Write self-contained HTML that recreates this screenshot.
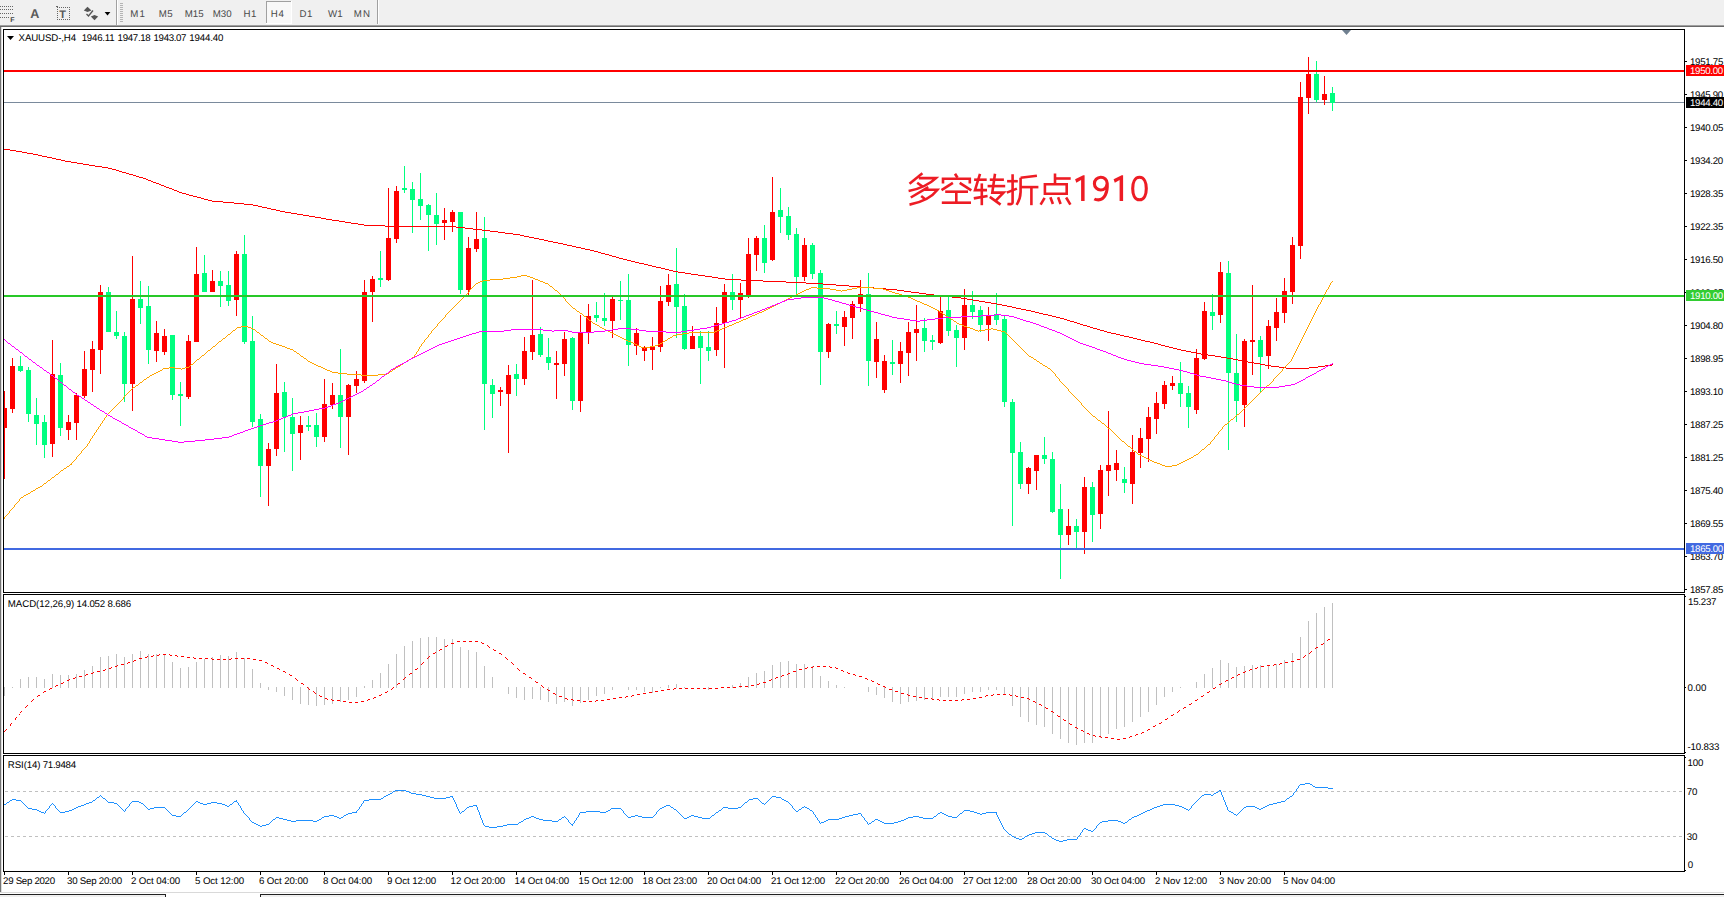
<!DOCTYPE html>
<html lang="en"><head><meta charset="utf-8"><title>XAUUSD H4</title><style>
html,body{margin:0;padding:0;background:#fff;}
body{width:1724px;height:897px;overflow:hidden;position:relative;font-family:"Liberation Sans",sans-serif;}
.abs{position:absolute;display:block;}
.t{position:absolute;white-space:pre;line-height:1.117;font-family:"Liberation Sans",sans-serif;text-rendering:geometricPrecision;}
#tb{position:absolute;left:0;top:0;width:1724px;height:25px;background:#f0f0f0;}
.r{position:absolute;}
</style></head>
<body>
<div id="tb"></div>
<div class="r" style="left:0;top:25px;width:1724px;height:1px;background:#a0a0a0"></div>
<div class="r" style="left:0;top:26px;width:1724px;height:1px;background:#696969"></div>
<div class="r" style="left:0;top:27px;width:1px;height:866px;background:#747474"></div>
<div class="r" style="left:1px;top:27px;width:1px;height:866px;background:#dcdcdc"></div>
<div class="r" style="left:0;top:892px;width:1724px;height:1px;background:#d9d9d9"></div>
<div class="r" style="left:0;top:894px;width:1724px;height:3px;background:#f0f0f0;border-top:1px solid #222;box-sizing:border-box"></div>
<div class="r" style="left:165px;top:894px;width:96px;height:3px;background:#fff;border-left:1px solid #222;border-right:1px solid #222;box-sizing:border-box"></div>
<svg class="abs" style="left:0;top:0" width="400" height="25" viewBox="0 0 400 25" shape-rendering="crispEdges"><rect x="0" y="6" width="1" height="1" fill="#666"/><rect x="2" y="6" width="1" height="1" fill="#666"/><rect x="4" y="6" width="1" height="1" fill="#666"/><rect x="6" y="6" width="1" height="1" fill="#666"/><rect x="8" y="6" width="1" height="1" fill="#666"/><rect x="10" y="6" width="1" height="1" fill="#666"/><rect x="12" y="6" width="1" height="1" fill="#666"/><rect x="0" y="9" width="1" height="1" fill="#666"/><rect x="2" y="9" width="1" height="1" fill="#666"/><rect x="4" y="9" width="1" height="1" fill="#666"/><rect x="6" y="9" width="1" height="1" fill="#666"/><rect x="8" y="9" width="1" height="1" fill="#666"/><rect x="10" y="9" width="1" height="1" fill="#666"/><rect x="12" y="9" width="1" height="1" fill="#666"/><rect x="0" y="13" width="1" height="1" fill="#666"/><rect x="2" y="13" width="1" height="1" fill="#666"/><rect x="4" y="13" width="1" height="1" fill="#666"/><rect x="6" y="13" width="1" height="1" fill="#666"/><rect x="8" y="13" width="1" height="1" fill="#666"/><rect x="10" y="13" width="1" height="1" fill="#666"/><rect x="12" y="13" width="1" height="1" fill="#666"/><rect x="0" y="17" width="1" height="1" fill="#666"/><rect x="2" y="17" width="1" height="1" fill="#666"/><rect x="4" y="17" width="1" height="1" fill="#666"/><rect x="6" y="17" width="1" height="1" fill="#666"/><rect x="8" y="17" width="1" height="1" fill="#666"/><rect x="116" y="0" width="1" height="25" fill="#a0a0a0"/><rect x="117" y="0" width="1" height="25" fill="#fff"/><rect x="120" y="3" width="3" height="1" fill="#b4b4b4"/><rect x="120" y="5" width="3" height="1" fill="#b4b4b4"/><rect x="120" y="7" width="3" height="1" fill="#b4b4b4"/><rect x="120" y="9" width="3" height="1" fill="#b4b4b4"/><rect x="120" y="11" width="3" height="1" fill="#b4b4b4"/><rect x="120" y="13" width="3" height="1" fill="#b4b4b4"/><rect x="120" y="15" width="3" height="1" fill="#b4b4b4"/><rect x="120" y="17" width="3" height="1" fill="#b4b4b4"/><rect x="120" y="19" width="3" height="1" fill="#b4b4b4"/><rect x="120" y="21" width="3" height="1" fill="#b4b4b4"/><rect x="57" y="7" width="1" height="1" fill="#666"/><rect x="57" y="19" width="1" height="1" fill="#666"/><rect x="59" y="7" width="1" height="1" fill="#666"/><rect x="59" y="19" width="1" height="1" fill="#666"/><rect x="61" y="7" width="1" height="1" fill="#666"/><rect x="61" y="19" width="1" height="1" fill="#666"/><rect x="63" y="7" width="1" height="1" fill="#666"/><rect x="63" y="19" width="1" height="1" fill="#666"/><rect x="65" y="7" width="1" height="1" fill="#666"/><rect x="65" y="19" width="1" height="1" fill="#666"/><rect x="67" y="7" width="1" height="1" fill="#666"/><rect x="67" y="19" width="1" height="1" fill="#666"/><rect x="69" y="7" width="1" height="1" fill="#666"/><rect x="69" y="19" width="1" height="1" fill="#666"/><rect x="57" y="7" width="1" height="1" fill="#666"/><rect x="69" y="7" width="1" height="1" fill="#666"/><rect x="57" y="9" width="1" height="1" fill="#666"/><rect x="69" y="9" width="1" height="1" fill="#666"/><rect x="57" y="11" width="1" height="1" fill="#666"/><rect x="69" y="11" width="1" height="1" fill="#666"/><rect x="57" y="13" width="1" height="1" fill="#666"/><rect x="69" y="13" width="1" height="1" fill="#666"/><rect x="57" y="15" width="1" height="1" fill="#666"/><rect x="69" y="15" width="1" height="1" fill="#666"/><rect x="57" y="17" width="1" height="1" fill="#666"/><rect x="69" y="17" width="1" height="1" fill="#666"/><rect x="57" y="19" width="1" height="1" fill="#666"/><rect x="69" y="19" width="1" height="1" fill="#666"/><rect x="56" y="6" width="2" height="1" fill="#666"/><polygon points="87.5,6.8 91.5,10.5 87.5,12 83.8,10.5" fill="#555" shape-rendering="auto"/><polygon points="94.5,20.2 98.2,16.5 94.5,15 90.8,16.5" fill="#555" shape-rendering="auto"/><path d="M86.5 14 L88.5 16 L93 10.5" fill="none" stroke="#555" stroke-width="1.3" shape-rendering="auto"/><polygon points="104.6,12 110.4,12 107.5,15.6" fill="#000" shape-rendering="auto"/><rect x="267" y="2" width="24" height="21" fill="#f8f8f8"/><rect x="266" y="1" width="25" height="1" fill="#a0a0a0"/><rect x="266" y="1" width="1" height="22" fill="#a0a0a0"/><rect x="291" y="1" width="1" height="23" fill="#fff"/><rect x="266" y="23" width="26" height="1" fill="#fff"/><rect x="377" y="0" width="1" height="24" fill="#a0a0a0"/><rect x="378" y="0" width="1" height="24" fill="#fff"/></svg>
<svg class="abs" style="left:0;top:0" width="1724" height="897" viewBox="0 0 1724 897" shape-rendering="crispEdges"><rect x="3" y="29" width="1682" height="1" fill="#000"/><rect x="3" y="592" width="1682" height="1" fill="#000"/><rect x="3" y="29" width="1" height="564" fill="#000"/><rect x="1684" y="29" width="1" height="564" fill="#000"/>
<rect x="3" y="594" width="1682" height="1" fill="#000"/><rect x="3" y="753" width="1682" height="1" fill="#000"/><rect x="3" y="594" width="1" height="160" fill="#000"/><rect x="1684" y="594" width="1" height="160" fill="#000"/>
<rect x="3" y="755" width="1682" height="1" fill="#000"/><rect x="3" y="871" width="1682" height="1" fill="#000"/><rect x="3" y="755" width="1" height="117" fill="#000"/><rect x="1684" y="755" width="1" height="117" fill="#000"/>
<rect x="4" y="102" width="1680" height="1" fill="#7a8a9c"/>
<rect x="4" y="391" width="1" height="88" fill="#ff0000"/><rect x="4" y="408" width="3" height="20" fill="#ff0000"/><rect x="12" y="358" width="1" height="55" fill="#ff0000"/><rect x="10" y="366" width="5" height="43" fill="#ff0000"/><rect x="20" y="356" width="1" height="16" fill="#00ff7f"/><rect x="18" y="366" width="5" height="5" fill="#00ff7f"/><rect x="28" y="367" width="1" height="55" fill="#00ff7f"/><rect x="26" y="370" width="5" height="44" fill="#00ff7f"/><rect x="36" y="398" width="1" height="47" fill="#00ff7f"/><rect x="34" y="415" width="5" height="9" fill="#00ff7f"/><rect x="44" y="415" width="1" height="43" fill="#00ff7f"/><rect x="42" y="422" width="5" height="23" fill="#00ff7f"/><rect x="52" y="340" width="1" height="117" fill="#ff0000"/><rect x="50" y="374" width="5" height="70" fill="#ff0000"/><rect x="60" y="363" width="1" height="73" fill="#00ff7f"/><rect x="58" y="375" width="5" height="53" fill="#00ff7f"/><rect x="68" y="415" width="1" height="25" fill="#ff0000"/><rect x="66" y="422" width="5" height="8" fill="#ff0000"/><rect x="76" y="393" width="1" height="47" fill="#ff0000"/><rect x="74" y="395" width="5" height="28" fill="#ff0000"/><rect x="84" y="351" width="1" height="47" fill="#ff0000"/><rect x="82" y="369" width="5" height="27" fill="#ff0000"/><rect x="92" y="341" width="1" height="51" fill="#ff0000"/><rect x="90" y="349" width="5" height="21" fill="#ff0000"/><rect x="100" y="285" width="1" height="89" fill="#ff0000"/><rect x="98" y="292" width="5" height="58" fill="#ff0000"/><rect x="108" y="287" width="1" height="45" fill="#00ff7f"/><rect x="106" y="292" width="5" height="40" fill="#00ff7f"/><rect x="116" y="311" width="1" height="28" fill="#00ff7f"/><rect x="114" y="332" width="5" height="4" fill="#00ff7f"/><rect x="124" y="332" width="1" height="70" fill="#00ff7f"/><rect x="122" y="336" width="5" height="48" fill="#00ff7f"/><rect x="132" y="256" width="1" height="155" fill="#ff0000"/><rect x="130" y="299" width="5" height="85" fill="#ff0000"/><rect x="140" y="281" width="1" height="43" fill="#00ff7f"/><rect x="138" y="299" width="5" height="9" fill="#00ff7f"/><rect x="148" y="286" width="1" height="78" fill="#00ff7f"/><rect x="146" y="306" width="5" height="44" fill="#00ff7f"/><rect x="156" y="321" width="1" height="41" fill="#ff0000"/><rect x="154" y="333" width="5" height="18" fill="#ff0000"/><rect x="164" y="329" width="1" height="26" fill="#ff0000"/><rect x="162" y="336" width="5" height="16" fill="#ff0000"/><rect x="172" y="335" width="1" height="65" fill="#00ff7f"/><rect x="170" y="335" width="5" height="60" fill="#00ff7f"/><rect x="180" y="382" width="1" height="44" fill="#00ff7f"/><rect x="178" y="394" width="5" height="2" fill="#00ff7f"/><rect x="188" y="335" width="1" height="64" fill="#ff0000"/><rect x="186" y="341" width="5" height="56" fill="#ff0000"/><rect x="196" y="247" width="1" height="95" fill="#ff0000"/><rect x="194" y="274" width="5" height="68" fill="#ff0000"/><rect x="204" y="255" width="1" height="37" fill="#00ff7f"/><rect x="202" y="273" width="5" height="19" fill="#00ff7f"/><rect x="212" y="270" width="1" height="22" fill="#ff0000"/><rect x="210" y="281" width="5" height="11" fill="#ff0000"/><rect x="220" y="271" width="1" height="36" fill="#00ff7f"/><rect x="218" y="281" width="5" height="5" fill="#00ff7f"/><rect x="228" y="271" width="1" height="35" fill="#00ff7f"/><rect x="226" y="285" width="5" height="16" fill="#00ff7f"/><rect x="236" y="251" width="1" height="65" fill="#ff0000"/><rect x="234" y="254" width="5" height="46" fill="#ff0000"/><rect x="244" y="235" width="1" height="109" fill="#00ff7f"/><rect x="242" y="254" width="5" height="88" fill="#00ff7f"/><rect x="252" y="316" width="1" height="111" fill="#00ff7f"/><rect x="250" y="341" width="5" height="81" fill="#00ff7f"/><rect x="260" y="414" width="1" height="83" fill="#00ff7f"/><rect x="258" y="419" width="5" height="47" fill="#00ff7f"/><rect x="268" y="443" width="1" height="63" fill="#ff0000"/><rect x="266" y="449" width="5" height="17" fill="#ff0000"/><rect x="276" y="364" width="1" height="92" fill="#ff0000"/><rect x="274" y="393" width="5" height="56" fill="#ff0000"/><rect x="284" y="382" width="1" height="70" fill="#00ff7f"/><rect x="282" y="392" width="5" height="25" fill="#00ff7f"/><rect x="292" y="398" width="1" height="73" fill="#00ff7f"/><rect x="290" y="417" width="5" height="17" fill="#00ff7f"/><rect x="300" y="416" width="1" height="44" fill="#ff0000"/><rect x="298" y="425" width="5" height="8" fill="#ff0000"/><rect x="308" y="416" width="1" height="15" fill="#00ff7f"/><rect x="306" y="425" width="5" height="2" fill="#00ff7f"/><rect x="316" y="413" width="1" height="34" fill="#00ff7f"/><rect x="314" y="425" width="5" height="12" fill="#00ff7f"/><rect x="324" y="379" width="1" height="63" fill="#ff0000"/><rect x="322" y="404" width="5" height="33" fill="#ff0000"/><rect x="332" y="383" width="1" height="26" fill="#ff0000"/><rect x="330" y="395" width="5" height="10" fill="#ff0000"/><rect x="340" y="349" width="1" height="99" fill="#00ff7f"/><rect x="338" y="395" width="5" height="22" fill="#00ff7f"/><rect x="348" y="384" width="1" height="71" fill="#ff0000"/><rect x="346" y="385" width="5" height="32" fill="#ff0000"/><rect x="356" y="371" width="1" height="22" fill="#ff0000"/><rect x="354" y="379" width="5" height="7" fill="#ff0000"/><rect x="364" y="280" width="1" height="103" fill="#ff0000"/><rect x="362" y="292" width="5" height="89" fill="#ff0000"/><rect x="372" y="276" width="1" height="46" fill="#ff0000"/><rect x="370" y="279" width="5" height="13" fill="#ff0000"/><rect x="380" y="251" width="1" height="36" fill="#00ff7f"/><rect x="378" y="278" width="5" height="2" fill="#00ff7f"/><rect x="388" y="188" width="1" height="93" fill="#ff0000"/><rect x="386" y="238" width="5" height="42" fill="#ff0000"/><rect x="396" y="186" width="1" height="57" fill="#ff0000"/><rect x="394" y="191" width="5" height="48" fill="#ff0000"/><rect x="404" y="166" width="1" height="27" fill="#00ff7f"/><rect x="402" y="188" width="5" height="2" fill="#00ff7f"/><rect x="412" y="182" width="1" height="51" fill="#00ff7f"/><rect x="410" y="189" width="5" height="11" fill="#00ff7f"/><rect x="420" y="173" width="1" height="47" fill="#00ff7f"/><rect x="418" y="199" width="5" height="7" fill="#00ff7f"/><rect x="428" y="204" width="1" height="47" fill="#00ff7f"/><rect x="426" y="205" width="5" height="10" fill="#00ff7f"/><rect x="436" y="193" width="1" height="52" fill="#00ff7f"/><rect x="434" y="215" width="5" height="9" fill="#00ff7f"/><rect x="444" y="208" width="1" height="32" fill="#ff0000"/><rect x="442" y="220" width="5" height="3" fill="#ff0000"/><rect x="452" y="210" width="1" height="22" fill="#ff0000"/><rect x="450" y="212" width="5" height="10" fill="#ff0000"/><rect x="460" y="212" width="1" height="82" fill="#00ff7f"/><rect x="458" y="212" width="5" height="78" fill="#00ff7f"/><rect x="468" y="237" width="1" height="58" fill="#ff0000"/><rect x="466" y="248" width="5" height="42" fill="#ff0000"/><rect x="476" y="212" width="1" height="40" fill="#ff0000"/><rect x="474" y="239" width="5" height="10" fill="#ff0000"/><rect x="484" y="217" width="1" height="213" fill="#00ff7f"/><rect x="482" y="238" width="5" height="146" fill="#00ff7f"/><rect x="492" y="379" width="1" height="39" fill="#00ff7f"/><rect x="490" y="385" width="5" height="9" fill="#00ff7f"/><rect x="500" y="387" width="1" height="19" fill="#ff0000"/><rect x="498" y="390" width="5" height="2" fill="#ff0000"/><rect x="508" y="365" width="1" height="88" fill="#ff0000"/><rect x="506" y="375" width="5" height="19" fill="#ff0000"/><rect x="516" y="364" width="1" height="32" fill="#00ff7f"/><rect x="514" y="374" width="5" height="5" fill="#00ff7f"/><rect x="524" y="337" width="1" height="48" fill="#ff0000"/><rect x="522" y="351" width="5" height="28" fill="#ff0000"/><rect x="532" y="280" width="1" height="80" fill="#ff0000"/><rect x="530" y="335" width="5" height="17" fill="#ff0000"/><rect x="540" y="327" width="1" height="30" fill="#00ff7f"/><rect x="538" y="334" width="5" height="21" fill="#00ff7f"/><rect x="548" y="338" width="1" height="32" fill="#00ff7f"/><rect x="546" y="357" width="5" height="6" fill="#00ff7f"/><rect x="556" y="351" width="1" height="48" fill="#ff0000"/><rect x="554" y="363" width="5" height="2" fill="#ff0000"/><rect x="564" y="332" width="1" height="44" fill="#ff0000"/><rect x="562" y="339" width="5" height="25" fill="#ff0000"/><rect x="572" y="337" width="1" height="73" fill="#00ff7f"/><rect x="570" y="338" width="5" height="63" fill="#00ff7f"/><rect x="580" y="315" width="1" height="97" fill="#ff0000"/><rect x="578" y="333" width="5" height="68" fill="#ff0000"/><rect x="588" y="304" width="1" height="40" fill="#ff0000"/><rect x="586" y="316" width="5" height="16" fill="#ff0000"/><rect x="596" y="302" width="1" height="20" fill="#00ff7f"/><rect x="594" y="315" width="5" height="3" fill="#00ff7f"/><rect x="604" y="293" width="1" height="33" fill="#00ff7f"/><rect x="602" y="318" width="5" height="3" fill="#00ff7f"/><rect x="612" y="296" width="1" height="42" fill="#ff0000"/><rect x="610" y="299" width="5" height="22" fill="#ff0000"/><rect x="620" y="281" width="1" height="39" fill="#00ff7f"/><rect x="618" y="300" width="5" height="1" fill="#00ff7f"/><rect x="628" y="274" width="1" height="92" fill="#00ff7f"/><rect x="626" y="300" width="5" height="45" fill="#00ff7f"/><rect x="636" y="328" width="1" height="27" fill="#ff0000"/><rect x="634" y="333" width="5" height="13" fill="#ff0000"/><rect x="644" y="346" width="1" height="15" fill="#ff0000"/><rect x="642" y="348" width="5" height="3" fill="#ff0000"/><rect x="652" y="337" width="1" height="33" fill="#ff0000"/><rect x="650" y="347" width="5" height="3" fill="#ff0000"/><rect x="660" y="286" width="1" height="66" fill="#ff0000"/><rect x="658" y="301" width="5" height="46" fill="#ff0000"/><rect x="668" y="274" width="1" height="32" fill="#ff0000"/><rect x="666" y="285" width="5" height="17" fill="#ff0000"/><rect x="676" y="248" width="1" height="90" fill="#00ff7f"/><rect x="674" y="284" width="5" height="23" fill="#00ff7f"/><rect x="684" y="294" width="1" height="56" fill="#00ff7f"/><rect x="682" y="306" width="5" height="43" fill="#00ff7f"/><rect x="692" y="326" width="1" height="23" fill="#ff0000"/><rect x="690" y="336" width="5" height="13" fill="#ff0000"/><rect x="700" y="331" width="1" height="53" fill="#00ff7f"/><rect x="698" y="336" width="5" height="12" fill="#00ff7f"/><rect x="708" y="331" width="1" height="30" fill="#00ff7f"/><rect x="706" y="347" width="5" height="4" fill="#00ff7f"/><rect x="716" y="307" width="1" height="49" fill="#ff0000"/><rect x="714" y="323" width="5" height="27" fill="#ff0000"/><rect x="724" y="284" width="1" height="84" fill="#ff0000"/><rect x="722" y="292" width="5" height="31" fill="#ff0000"/><rect x="732" y="274" width="1" height="36" fill="#00ff7f"/><rect x="730" y="292" width="5" height="8" fill="#00ff7f"/><rect x="740" y="283" width="1" height="35" fill="#ff0000"/><rect x="738" y="293" width="5" height="7" fill="#ff0000"/><rect x="748" y="238" width="1" height="60" fill="#ff0000"/><rect x="746" y="254" width="5" height="41" fill="#ff0000"/><rect x="756" y="236" width="1" height="35" fill="#ff0000"/><rect x="754" y="238" width="5" height="17" fill="#ff0000"/><rect x="764" y="225" width="1" height="48" fill="#00ff7f"/><rect x="762" y="238" width="5" height="25" fill="#00ff7f"/><rect x="772" y="177" width="1" height="84" fill="#ff0000"/><rect x="770" y="212" width="5" height="48" fill="#ff0000"/><rect x="780" y="188" width="1" height="45" fill="#00ff7f"/><rect x="778" y="210" width="5" height="7" fill="#00ff7f"/><rect x="788" y="207" width="1" height="33" fill="#00ff7f"/><rect x="786" y="216" width="5" height="19" fill="#00ff7f"/><rect x="796" y="228" width="1" height="66" fill="#00ff7f"/><rect x="794" y="234" width="5" height="43" fill="#00ff7f"/><rect x="804" y="238" width="1" height="43" fill="#ff0000"/><rect x="802" y="245" width="5" height="32" fill="#ff0000"/><rect x="812" y="243" width="1" height="36" fill="#00ff7f"/><rect x="810" y="245" width="5" height="29" fill="#00ff7f"/><rect x="820" y="270" width="1" height="115" fill="#00ff7f"/><rect x="818" y="273" width="5" height="79" fill="#00ff7f"/><rect x="828" y="323" width="1" height="35" fill="#ff0000"/><rect x="826" y="324" width="5" height="28" fill="#ff0000"/><rect x="836" y="311" width="1" height="23" fill="#00ff7f"/><rect x="834" y="324" width="5" height="2" fill="#00ff7f"/><rect x="844" y="311" width="1" height="35" fill="#ff0000"/><rect x="842" y="317" width="5" height="10" fill="#ff0000"/><rect x="852" y="301" width="1" height="38" fill="#ff0000"/><rect x="850" y="304" width="5" height="14" fill="#ff0000"/><rect x="860" y="280" width="1" height="32" fill="#ff0000"/><rect x="858" y="294" width="5" height="10" fill="#ff0000"/><rect x="868" y="273" width="1" height="113" fill="#00ff7f"/><rect x="866" y="294" width="5" height="67" fill="#00ff7f"/><rect x="876" y="322" width="1" height="56" fill="#ff0000"/><rect x="874" y="339" width="5" height="23" fill="#ff0000"/><rect x="884" y="355" width="1" height="38" fill="#ff0000"/><rect x="882" y="361" width="5" height="29" fill="#ff0000"/><rect x="892" y="340" width="1" height="35" fill="#00ff7f"/><rect x="890" y="362" width="5" height="2" fill="#00ff7f"/><rect x="900" y="342" width="1" height="41" fill="#ff0000"/><rect x="898" y="351" width="5" height="13" fill="#ff0000"/><rect x="908" y="322" width="1" height="54" fill="#ff0000"/><rect x="906" y="332" width="5" height="21" fill="#ff0000"/><rect x="916" y="305" width="1" height="56" fill="#ff0000"/><rect x="914" y="329" width="5" height="4" fill="#ff0000"/><rect x="924" y="318" width="1" height="34" fill="#00ff7f"/><rect x="922" y="328" width="5" height="13" fill="#00ff7f"/><rect x="932" y="335" width="1" height="15" fill="#00ff7f"/><rect x="930" y="340" width="5" height="2" fill="#00ff7f"/><rect x="940" y="297" width="1" height="47" fill="#ff0000"/><rect x="938" y="311" width="5" height="32" fill="#ff0000"/><rect x="948" y="297" width="1" height="39" fill="#00ff7f"/><rect x="946" y="310" width="5" height="21" fill="#00ff7f"/><rect x="956" y="325" width="1" height="42" fill="#00ff7f"/><rect x="954" y="330" width="5" height="8" fill="#00ff7f"/><rect x="964" y="289" width="1" height="61" fill="#ff0000"/><rect x="962" y="305" width="5" height="33" fill="#ff0000"/><rect x="972" y="291" width="1" height="28" fill="#00ff7f"/><rect x="970" y="305" width="5" height="7" fill="#00ff7f"/><rect x="980" y="306" width="1" height="26" fill="#00ff7f"/><rect x="978" y="310" width="5" height="15" fill="#00ff7f"/><rect x="988" y="307" width="1" height="34" fill="#ff0000"/><rect x="986" y="315" width="5" height="10" fill="#ff0000"/><rect x="996" y="293" width="1" height="32" fill="#00ff7f"/><rect x="994" y="314" width="5" height="6" fill="#00ff7f"/><rect x="1004" y="316" width="1" height="91" fill="#00ff7f"/><rect x="1002" y="319" width="5" height="83" fill="#00ff7f"/><rect x="1012" y="399" width="1" height="127" fill="#00ff7f"/><rect x="1010" y="402" width="5" height="51" fill="#00ff7f"/><rect x="1020" y="442" width="1" height="47" fill="#00ff7f"/><rect x="1018" y="452" width="5" height="32" fill="#00ff7f"/><rect x="1028" y="467" width="1" height="27" fill="#ff0000"/><rect x="1026" y="468" width="5" height="16" fill="#ff0000"/><rect x="1036" y="455" width="1" height="35" fill="#ff0000"/><rect x="1034" y="455" width="5" height="16" fill="#ff0000"/><rect x="1044" y="437" width="1" height="27" fill="#00ff7f"/><rect x="1042" y="455" width="5" height="4" fill="#00ff7f"/><rect x="1052" y="452" width="1" height="61" fill="#00ff7f"/><rect x="1050" y="459" width="5" height="53" fill="#00ff7f"/><rect x="1060" y="484" width="1" height="95" fill="#00ff7f"/><rect x="1058" y="509" width="5" height="26" fill="#00ff7f"/><rect x="1068" y="509" width="1" height="36" fill="#ff0000"/><rect x="1066" y="526" width="5" height="9" fill="#ff0000"/><rect x="1076" y="519" width="1" height="29" fill="#00ff7f"/><rect x="1074" y="526" width="5" height="6" fill="#00ff7f"/><rect x="1084" y="477" width="1" height="77" fill="#ff0000"/><rect x="1082" y="487" width="5" height="45" fill="#ff0000"/><rect x="1092" y="482" width="1" height="60" fill="#00ff7f"/><rect x="1090" y="487" width="5" height="28" fill="#00ff7f"/><rect x="1100" y="465" width="1" height="64" fill="#ff0000"/><rect x="1098" y="470" width="5" height="44" fill="#ff0000"/><rect x="1108" y="411" width="1" height="85" fill="#ff0000"/><rect x="1106" y="465" width="5" height="6" fill="#ff0000"/><rect x="1116" y="450" width="1" height="31" fill="#ff0000"/><rect x="1114" y="463" width="5" height="7" fill="#ff0000"/><rect x="1124" y="467" width="1" height="26" fill="#00ff7f"/><rect x="1122" y="479" width="5" height="4" fill="#00ff7f"/><rect x="1132" y="435" width="1" height="69" fill="#ff0000"/><rect x="1130" y="452" width="5" height="32" fill="#ff0000"/><rect x="1140" y="428" width="1" height="40" fill="#ff0000"/><rect x="1138" y="438" width="5" height="15" fill="#ff0000"/><rect x="1148" y="407" width="1" height="55" fill="#ff0000"/><rect x="1146" y="417" width="5" height="22" fill="#ff0000"/><rect x="1156" y="392" width="1" height="42" fill="#ff0000"/><rect x="1154" y="403" width="5" height="16" fill="#ff0000"/><rect x="1164" y="381" width="1" height="28" fill="#ff0000"/><rect x="1162" y="385" width="5" height="19" fill="#ff0000"/><rect x="1172" y="376" width="1" height="14" fill="#ff0000"/><rect x="1170" y="383" width="5" height="3" fill="#ff0000"/><rect x="1180" y="362" width="1" height="45" fill="#00ff7f"/><rect x="1178" y="383" width="5" height="11" fill="#00ff7f"/><rect x="1188" y="386" width="1" height="42" fill="#00ff7f"/><rect x="1186" y="393" width="5" height="14" fill="#00ff7f"/><rect x="1196" y="349" width="1" height="65" fill="#ff0000"/><rect x="1194" y="358" width="5" height="52" fill="#ff0000"/><rect x="1204" y="302" width="1" height="58" fill="#ff0000"/><rect x="1202" y="311" width="5" height="48" fill="#ff0000"/><rect x="1212" y="294" width="1" height="36" fill="#00ff7f"/><rect x="1210" y="312" width="5" height="4" fill="#00ff7f"/><rect x="1220" y="262" width="1" height="61" fill="#ff0000"/><rect x="1218" y="272" width="5" height="43" fill="#ff0000"/><rect x="1228" y="261" width="1" height="189" fill="#00ff7f"/><rect x="1226" y="273" width="5" height="100" fill="#00ff7f"/><rect x="1236" y="334" width="1" height="88" fill="#00ff7f"/><rect x="1234" y="373" width="5" height="28" fill="#00ff7f"/><rect x="1244" y="339" width="1" height="88" fill="#ff0000"/><rect x="1242" y="341" width="5" height="64" fill="#ff0000"/><rect x="1252" y="285" width="1" height="90" fill="#ff0000"/><rect x="1250" y="340" width="5" height="2" fill="#ff0000"/><rect x="1260" y="336" width="1" height="56" fill="#00ff7f"/><rect x="1258" y="340" width="5" height="17" fill="#00ff7f"/><rect x="1268" y="320" width="1" height="49" fill="#ff0000"/><rect x="1266" y="326" width="5" height="30" fill="#ff0000"/><rect x="1276" y="298" width="1" height="43" fill="#ff0000"/><rect x="1274" y="312" width="5" height="16" fill="#ff0000"/><rect x="1284" y="278" width="1" height="45" fill="#ff0000"/><rect x="1282" y="291" width="5" height="22" fill="#ff0000"/><rect x="1292" y="237" width="1" height="67" fill="#ff0000"/><rect x="1290" y="245" width="5" height="47" fill="#ff0000"/><rect x="1300" y="82" width="1" height="177" fill="#ff0000"/><rect x="1298" y="97" width="5" height="149" fill="#ff0000"/><rect x="1308" y="57" width="1" height="57" fill="#ff0000"/><rect x="1306" y="74" width="5" height="24" fill="#ff0000"/><rect x="1316" y="61" width="1" height="41" fill="#00ff7f"/><rect x="1314" y="74" width="5" height="26" fill="#00ff7f"/><rect x="1324" y="76" width="1" height="29" fill="#ff0000"/><rect x="1322" y="94" width="5" height="6" fill="#ff0000"/><rect x="1332" y="87" width="1" height="24" fill="#00ff7f"/><rect x="1330" y="93" width="5" height="10" fill="#00ff7f"/>
<path fill="#ff0000" d="M4 149h6v1h-6zM10 150h6v1h-6zM16 151h6v1h-6zM22 152h5v1h-5zM27 153h6v1h-6zM33 154h5v1h-5zM38 155h4v1h-4zM42 156h5v1h-5zM47 157h5v1h-5zM52 158h4v1h-4zM56 159h5v1h-5zM61 160h4v1h-4zM65 161h6v1h-6zM71 162h6v1h-6zM77 163h6v1h-6zM83 164h6v1h-6zM89 165h6v1h-6zM95 166h7v1h-7zM102 167h6v1h-6zM108 168h4v1h-4zM112 169h4v1h-4zM116 170h3v1h-3zM119 171h3v1h-3zM122 172h4v1h-4zM126 173h3v1h-3zM129 174h4v1h-4zM133 175h3v1h-3zM136 176h3v1h-3zM139 177h4v1h-4zM143 178h3v1h-3zM146 179h2v1h-2zM148 180h3v1h-3zM151 181h2v1h-2zM153 182h3v1h-3zM156 183h3v1h-3zM159 184h2v1h-2zM161 185h3v1h-3zM164 186h2v1h-2zM166 187h3v1h-3zM169 188h3v1h-3zM172 189h2v1h-2zM174 190h3v1h-3zM177 191h2v1h-2zM179 192h3v1h-3zM182 193h4v1h-4zM186 194h3v1h-3zM189 195h4v1h-4zM193 196h4v1h-4zM197 197h4v1h-4zM201 198h3v1h-3zM204 199h4v1h-4zM208 200h4v1h-4zM212 201h11v1h-11zM223 202h11v1h-11zM234 203h10v1h-10zM244 204h9v1h-9zM253 205h5v1h-5zM258 206h4v1h-4zM262 207h5v1h-5zM267 208h4v1h-4zM271 209h5v1h-5zM276 210h4v1h-4zM280 211h5v1h-5zM285 212h6v1h-6zM291 213h6v1h-6zM297 214h6v1h-6zM303 215h6v1h-6zM309 216h6v1h-6zM315 217h6v1h-6zM321 218h5v1h-5zM326 219h6v1h-6zM332 220h7v1h-7zM339 221h6v1h-6zM345 222h6v1h-6zM351 223h7v1h-7zM358 224h6v1h-6zM364 225h21v1h-21zM385 226h71v1h-71zM456 227h9v1h-9zM465 228h8v1h-8zM473 229h9v1h-9zM482 230h8v1h-8zM490 231h8v1h-8zM498 232h7v1h-7zM505 233h8v1h-8zM513 234h7v1h-7zM520 235h4v1h-4zM524 236h5v1h-5zM529 237h5v1h-5zM534 238h5v1h-5zM539 239h5v1h-5zM544 240h4v1h-4zM548 241h5v1h-5zM553 242h5v1h-5zM558 243h5v1h-5zM563 244h4v1h-4zM567 245h5v1h-5zM572 246h4v1h-4zM576 247h5v1h-5zM581 248h4v1h-4zM585 249h5v1h-5zM590 250h4v1h-4zM594 251h4v1h-4zM598 252h3v1h-3zM601 253h4v1h-4zM605 254h4v1h-4zM609 255h3v1h-3zM612 256h4v1h-4zM616 257h3v1h-3zM619 258h4v1h-4zM623 259h4v1h-4zM627 260h4v1h-4zM631 261h4v1h-4zM635 262h4v1h-4zM639 263h5v1h-5zM644 264h4v1h-4zM648 265h4v1h-4zM652 266h4v1h-4zM656 267h5v1h-5zM661 268h4v1h-4zM665 269h4v1h-4zM669 270h4v1h-4zM673 271h5v1h-5zM678 272h7v1h-7zM685 273h6v1h-6zM691 274h7v1h-7zM698 275h7v1h-7zM705 276h7v1h-7zM712 277h6v1h-6zM718 278h7v1h-7zM725 279h16v1h-16zM741 280h22v1h-22zM763 281h23v1h-23zM786 282h20v1h-20zM806 283h17v1h-17zM823 284h13v1h-13zM836 285h13v1h-13zM849 286h12v1h-12zM861 287h13v1h-13zM874 288h12v1h-12zM886 289h11v1h-11zM897 290h7v1h-7zM904 291h7v1h-7zM911 292h8v1h-8zM919 293h7v1h-7zM926 294h8v1h-8zM934 295h9v1h-9zM943 296h9v1h-9zM952 297h9v1h-9zM961 298h6v1h-6zM967 299h6v1h-6zM973 300h6v1h-6zM979 301h6v1h-6zM985 302h6v1h-6zM991 303h6v1h-6zM997 304h5v1h-5zM1002 305h5v1h-5zM1007 306h5v1h-5zM1012 307h4v1h-4zM1016 308h5v1h-5zM1021 309h5v1h-5zM1026 310h5v1h-5zM1031 311h4v1h-4zM1035 312h4v1h-4zM1039 313h4v1h-4zM1043 314h5v1h-5zM1048 315h4v1h-4zM1052 316h4v1h-4zM1056 317h4v1h-4zM1060 318h4v1h-4zM1064 319h3v1h-3zM1067 320h3v1h-3zM1070 321h4v1h-4zM1074 322h3v1h-3zM1077 323h3v1h-3zM1080 324h3v1h-3zM1083 325h4v1h-4zM1087 326h3v1h-3zM1090 327h3v1h-3zM1093 328h4v1h-4zM1097 329h3v1h-3zM1100 330h4v1h-4zM1104 331h3v1h-3zM1107 332h4v1h-4zM1111 333h5v1h-5zM1116 334h4v1h-4zM1120 335h4v1h-4zM1124 336h5v1h-5zM1129 337h4v1h-4zM1133 338h4v1h-4zM1137 339h4v1h-4zM1141 340h4v1h-4zM1145 341h5v1h-5zM1150 342h4v1h-4zM1154 343h4v1h-4zM1158 344h3v1h-3zM1161 345h4v1h-4zM1165 346h4v1h-4zM1169 347h4v1h-4zM1173 348h4v1h-4zM1177 349h4v1h-4zM1181 350h5v1h-5zM1186 351h5v1h-5zM1191 352h5v1h-5zM1196 353h5v1h-5zM1201 354h7v1h-7zM1208 355h7v1h-7zM1215 356h6v1h-6zM1221 357h6v1h-6zM1227 358h6v1h-6zM1233 359h5v1h-5zM1238 360h5v1h-5zM1243 361h5v1h-5zM1248 362h6v1h-6zM1254 363h6v1h-6zM1260 364h5v1h-5zM1265 365h6v1h-6zM1271 366h8v1h-8zM1279 367h7v1h-7zM1286 368h23v1h-23zM1309 367h9v1h-9zM1318 366h7v1h-7zM1325 365h7v1h-7zM1332 364h1v1h-1z"/>
<path fill="#ffa500" d="M4 517h1v2h-1zM5 516h1v1h-1zM6 515h1v1h-1zM7 514h1v1h-1zM8 513h1v1h-1zM9 511h1v2h-1zM10 510h1v1h-1zM11 509h1v1h-1zM12 508h1v1h-1zM13 507h1v1h-1zM14 505h1v2h-1zM15 504h1v1h-1zM16 503h1v1h-1zM17 502h1v1h-1zM18 501h1v1h-1zM19 499h1v2h-1zM20 498h1v1h-1zM21 497h2v1h-2zM23 496h1v1h-1zM24 495h2v1h-2zM26 494h2v1h-2zM28 493h2v1h-2zM30 492h1v1h-1zM31 491h2v1h-2zM33 490h2v1h-2zM35 489h1v1h-1zM36 488h2v1h-2zM38 487h2v1h-2zM40 486h2v1h-2zM42 485h1v1h-1zM43 484h1v1h-1zM44 483h2v1h-2zM46 482h1v1h-1zM47 481h1v1h-1zM48 480h2v1h-2zM50 479h1v1h-1zM51 478h1v1h-1zM52 477h2v1h-2zM54 476h1v1h-1zM55 475h1v1h-1zM56 474h2v1h-2zM58 473h1v1h-1zM59 472h1v1h-1zM60 471h1v1h-1zM61 470h2v1h-2zM63 469h1v1h-1zM64 468h2v1h-2zM66 467h1v1h-1zM67 466h2v1h-2zM69 465h1v1h-1zM70 464h1v1h-1zM71 463h1v2h-1zM72 462h1v1h-1zM73 461h1v1h-1zM74 460h1v1h-1zM75 459h1v1h-1zM76 457h1v2h-1zM77 456h1v1h-1zM78 455h1v1h-1zM79 454h1v1h-1zM80 453h1v1h-1zM81 451h1v2h-1zM82 450h1v1h-1zM83 449h1v1h-1zM84 448h1v1h-1zM85 447h1v1h-1zM86 446h1v1h-1zM87 444h1v2h-1zM88 443h1v1h-1zM89 441h1v2h-1zM90 439h1v2h-1zM91 438h1v1h-1zM92 436h1v2h-1zM93 435h1v1h-1zM94 433h1v2h-1zM95 432h1v1h-1zM96 430h1v2h-1zM97 429h1v1h-1zM98 427h1v2h-1zM99 426h1v1h-1zM100 424h1v2h-1zM101 423h1v1h-1zM102 421h1v2h-1zM103 420h1v1h-1zM104 418h1v2h-1zM105 417h1v1h-1zM106 415h1v2h-1zM107 414h1v1h-1zM108 413h1v1h-1zM109 412h1v1h-1zM110 411h1v1h-1zM111 410h1v1h-1zM112 409h1v1h-1zM113 408h1v1h-1zM114 407h1v1h-1zM115 406h1v1h-1zM116 405h1v1h-1zM117 404h1v1h-1zM118 403h1v1h-1zM119 402h1v1h-1zM120 401h1v1h-1zM121 400h1v1h-1zM122 399h1v1h-1zM123 397h1v2h-1zM124 396h1v1h-1zM125 395h1v1h-1zM126 394h1v1h-1zM127 393h1v1h-1zM128 392h1v1h-1zM129 391h1v1h-1zM130 390h1v1h-1zM131 389h1v1h-1zM132 388h1v1h-1zM133 387h2v1h-2zM135 386h1v1h-1zM136 385h2v1h-2zM138 384h1v1h-1zM139 383h1v1h-1zM140 382h2v1h-2zM142 381h1v1h-1zM143 380h1v1h-1zM144 379h2v1h-2zM146 378h1v1h-1zM147 377h2v1h-2zM149 376h1v1h-1zM150 375h2v1h-2zM152 374h2v1h-2zM154 373h2v1h-2zM156 372h2v1h-2zM158 371h2v1h-2zM160 370h2v1h-2zM162 369h1v1h-1zM163 368h6v1h-6zM169 367h6v1h-6zM175 368h6v1h-6zM181 369h1v1h-1zM182 368h3v1h-3zM185 367h4v1h-4zM189 366h1v1h-1zM190 365h1v1h-1zM191 364h2v1h-2zM193 363h1v1h-1zM194 362h1v1h-1zM195 361h1v1h-1zM196 360h1v1h-1zM197 359h2v1h-2zM199 358h1v1h-1zM200 357h1v1h-1zM201 356h1v1h-1zM202 355h2v1h-2zM204 354h1v1h-1zM205 353h1v1h-1zM206 352h1v1h-1zM207 351h1v1h-1zM208 350h2v1h-2zM210 349h1v1h-1zM211 348h1v1h-1zM212 347h1v1h-1zM213 346h2v1h-2zM215 345h1v1h-1zM216 344h1v1h-1zM217 343h1v1h-1zM218 342h1v1h-1zM219 341h2v1h-2zM221 340h1v1h-1zM222 339h1v1h-1zM223 338h2v1h-2zM225 337h1v1h-1zM226 336h1v1h-1zM227 335h1v1h-1zM228 334h2v1h-2zM230 333h1v1h-1zM231 332h1v1h-1zM232 331h1v1h-1zM233 330h2v1h-2zM235 329h1v1h-1zM236 328h1v1h-1zM237 327h4v1h-4zM241 326h7v1h-7zM248 327h3v1h-3zM251 328h2v1h-2zM253 329h2v1h-2zM255 330h1v1h-1zM256 331h1v1h-1zM257 332h2v1h-2zM259 333h1v1h-1zM260 334h1v1h-1zM261 335h2v1h-2zM263 336h1v1h-1zM264 337h1v1h-1zM265 338h2v1h-2zM267 339h1v1h-1zM268 340h1v1h-1zM269 341h2v1h-2zM271 342h2v1h-2zM273 343h3v1h-3zM276 344h3v1h-3zM279 345h3v1h-3zM282 346h3v1h-3zM285 347h2v1h-2zM287 348h3v1h-3zM290 349h3v1h-3zM293 350h1v1h-1zM294 351h2v1h-2zM296 352h1v1h-1zM297 353h2v1h-2zM299 354h1v1h-1zM300 355h1v1h-1zM301 356h2v1h-2zM303 357h1v1h-1zM304 358h2v1h-2zM306 359h1v1h-1zM307 360h1v1h-1zM308 361h2v1h-2zM310 362h2v1h-2zM312 363h2v1h-2zM314 364h2v1h-2zM316 365h2v1h-2zM318 366h3v1h-3zM321 367h2v1h-2zM323 368h2v1h-2zM325 369h2v1h-2zM327 370h3v1h-3zM330 371h2v1h-2zM332 372h6v1h-6zM338 373h9v1h-9zM347 374h14v1h-14zM361 375h17v1h-17zM378 374h9v1h-9zM387 373h2v1h-2zM389 372h1v1h-1zM390 371h2v1h-2zM392 370h1v1h-1zM393 369h2v1h-2zM395 368h1v1h-1zM396 367h2v1h-2zM398 366h2v1h-2zM400 365h1v1h-1zM401 364h2v1h-2zM403 363h1v1h-1zM404 362h2v1h-2zM406 361h1v1h-1zM407 360h2v1h-2zM409 359h2v1h-2zM411 358h1v1h-1zM412 357h2v1h-2zM414 355h1v2h-1zM415 354h1v1h-1zM416 352h1v2h-1zM417 351h1v1h-1zM418 349h1v2h-1zM419 347h1v2h-1zM420 346h1v1h-1zM421 344h1v2h-1zM422 343h1v1h-1zM423 342h1v1h-1zM424 340h1v2h-1zM425 339h1v1h-1zM426 338h1v1h-1zM427 337h1v1h-1zM428 335h1v2h-1zM429 334h1v1h-1zM430 333h1v1h-1zM431 331h1v2h-1zM432 330h1v1h-1zM433 329h1v1h-1zM434 328h1v1h-1zM435 327h1v1h-1zM436 326h1v1h-1zM437 324h1v2h-1zM438 323h1v1h-1zM439 322h1v1h-1zM440 321h1v1h-1zM441 320h1v1h-1zM442 319h1v1h-1zM443 318h1v1h-1zM444 317h1v1h-1zM445 315h1v2h-1zM446 314h1v1h-1zM447 313h1v1h-1zM448 312h1v1h-1zM449 311h1v1h-1zM450 310h1v1h-1zM451 309h1v1h-1zM452 308h1v1h-1zM453 307h1v1h-1zM454 306h1v1h-1zM455 305h1v1h-1zM456 304h1v1h-1zM457 303h1v1h-1zM458 302h1v1h-1zM459 301h1v1h-1zM460 300h1v1h-1zM461 299h1v1h-1zM462 298h1v1h-1zM463 297h1v1h-1zM464 296h1v1h-1zM465 295h1v1h-1zM466 294h1v1h-1zM467 293h1v1h-1zM468 292h1v1h-1zM469 290h1v2h-1zM470 289h1v1h-1zM471 288h1v1h-1zM472 287h1v1h-1zM473 286h1v1h-1zM474 285h1v1h-1zM475 284h1v1h-1zM476 283h2v1h-2zM478 282h2v1h-2zM480 281h3v1h-3zM483 280h7v1h-7zM490 279h13v1h-13zM503 278h7v1h-7zM510 277h7v1h-7zM517 276h4v1h-4zM521 275h6v1h-6zM527 276h3v1h-3zM530 277h3v1h-3zM533 278h2v1h-2zM535 279h3v1h-3zM538 280h2v1h-2zM540 281h3v1h-3zM543 282h2v1h-2zM545 283h3v1h-3zM548 284h1v1h-1zM549 285h1v1h-1zM550 286h2v1h-2zM552 287h1v1h-1zM553 288h1v1h-1zM554 289h1v1h-1zM555 290h2v1h-2zM557 291h1v1h-1zM558 292h1v1h-1zM559 293h1v1h-1zM560 294h1v1h-1zM561 295h1v1h-1zM562 296h1v1h-1zM563 297h1v1h-1zM564 298h1v1h-1zM565 299h1v2h-1zM566 301h1v1h-1zM567 302h1v1h-1zM568 303h1v1h-1zM569 304h1v1h-1zM570 305h1v1h-1zM571 306h1v1h-1zM572 307h1v1h-1zM573 308h2v1h-2zM575 309h1v1h-1zM576 310h1v1h-1zM577 311h2v1h-2zM579 312h1v1h-1zM580 313h2v1h-2zM582 314h1v1h-1zM583 315h1v1h-1zM584 316h2v1h-2zM586 317h1v1h-1zM587 318h1v1h-1zM588 319h1v1h-1zM589 320h2v1h-2zM591 321h1v1h-1zM592 322h1v1h-1zM593 323h2v1h-2zM595 324h2v1h-2zM597 325h2v1h-2zM599 326h1v1h-1zM600 327h2v1h-2zM602 328h2v1h-2zM604 329h2v1h-2zM606 330h2v1h-2zM608 331h2v1h-2zM610 332h2v1h-2zM612 333h2v1h-2zM614 334h2v1h-2zM616 335h2v1h-2zM618 336h2v1h-2zM620 337h2v1h-2zM622 338h2v1h-2zM624 339h2v1h-2zM626 340h2v1h-2zM628 341h3v1h-3zM631 342h2v1h-2zM633 343h2v1h-2zM635 344h2v1h-2zM637 345h2v1h-2zM639 346h2v1h-2zM641 347h3v1h-3zM644 348h1v1h-1zM645 347h5v1h-5zM650 346h5v1h-5zM655 345h3v1h-3zM658 344h2v1h-2zM660 343h2v1h-2zM662 342h1v1h-1zM663 341h2v1h-2zM665 340h2v1h-2zM667 339h1v1h-1zM668 338h2v1h-2zM670 337h2v1h-2zM672 336h1v1h-1zM673 335h4v1h-4zM677 334h6v1h-6zM683 333h6v1h-6zM689 332h26v1h-26zM715 331h2v1h-2zM717 330h3v1h-3zM720 329h2v1h-2zM722 328h2v1h-2zM724 327h3v1h-3zM727 326h2v1h-2zM729 325h3v1h-3zM732 324h2v1h-2zM734 323h2v1h-2zM736 322h3v1h-3zM739 321h2v1h-2zM741 320h2v1h-2zM743 319h3v1h-3zM746 318h2v1h-2zM748 317h2v1h-2zM750 316h2v1h-2zM752 315h3v1h-3zM755 314h2v1h-2zM757 313h2v1h-2zM759 312h3v1h-3zM762 311h2v1h-2zM764 310h2v1h-2zM766 309h2v1h-2zM768 308h2v1h-2zM770 307h2v1h-2zM772 306h2v1h-2zM774 305h2v1h-2zM776 304h2v1h-2zM778 303h2v1h-2zM780 302h2v1h-2zM782 301h2v1h-2zM784 300h2v1h-2zM786 299h2v1h-2zM788 298h2v1h-2zM790 297h2v1h-2zM792 296h2v1h-2zM794 295h2v1h-2zM796 294h2v1h-2zM798 293h2v1h-2zM800 292h2v1h-2zM802 291h2v1h-2zM804 290h2v1h-2zM806 289h3v1h-3zM809 288h2v1h-2zM811 287h6v1h-6zM817 288h13v1h-13zM830 289h6v1h-6zM836 290h5v1h-5zM841 291h1v1h-1zM842 290h5v1h-5zM847 289h5v1h-5zM852 288h5v1h-5zM857 287h16v1h-16zM873 288h10v1h-10zM883 289h3v1h-3zM886 290h3v1h-3zM889 291h3v1h-3zM892 292h3v1h-3zM895 293h4v1h-4zM899 294h3v1h-3zM902 295h3v1h-3zM905 296h3v1h-3zM908 297h3v1h-3zM911 298h2v1h-2zM913 299h2v1h-2zM915 300h2v1h-2zM917 301h3v1h-3zM920 302h2v1h-2zM922 303h2v1h-2zM924 304h3v1h-3zM927 305h2v1h-2zM929 306h2v1h-2zM931 307h2v1h-2zM933 308h2v1h-2zM935 309h2v1h-2zM937 310h2v1h-2zM939 311h1v1h-1zM940 312h2v1h-2zM942 313h1v1h-1zM943 314h2v1h-2zM945 315h1v1h-1zM946 316h2v1h-2zM948 317h1v1h-1zM949 318h2v1h-2zM951 319h2v1h-2zM953 320h1v1h-1zM954 321h2v1h-2zM956 322h1v1h-1zM957 323h2v1h-2zM959 324h3v1h-3zM962 325h2v1h-2zM964 326h3v1h-3zM967 327h3v1h-3zM970 328h3v1h-3zM973 329h2v1h-2zM975 330h3v1h-3zM978 331h1v1h-1zM979 330h6v1h-6zM985 329h6v1h-6zM991 328h2v1h-2zM993 329h4v1h-4zM997 330h4v1h-4zM1001 331h4v1h-4zM1005 332h1v1h-1zM1006 333h1v1h-1zM1007 334h1v1h-1zM1008 335h1v1h-1zM1009 336h1v1h-1zM1010 337h1v1h-1zM1011 338h1v1h-1zM1012 339h1v1h-1zM1013 340h1v1h-1zM1014 341h1v1h-1zM1015 342h1v1h-1zM1016 343h1v1h-1zM1017 344h1v1h-1zM1018 345h1v1h-1zM1019 346h1v1h-1zM1020 347h1v1h-1zM1021 348h1v1h-1zM1022 349h1v1h-1zM1023 350h1v1h-1zM1024 351h1v1h-1zM1025 352h1v1h-1zM1026 353h1v1h-1zM1027 354h1v1h-1zM1028 355h1v1h-1zM1029 356h2v1h-2zM1031 357h2v1h-2zM1033 358h1v1h-1zM1034 359h2v1h-2zM1036 360h1v1h-1zM1037 361h2v1h-2zM1039 362h1v1h-1zM1040 363h2v1h-2zM1042 364h1v1h-1zM1043 365h2v1h-2zM1045 366h2v1h-2zM1047 367h1v1h-1zM1048 368h2v1h-2zM1050 369h1v1h-1zM1051 370h1v1h-1zM1052 371h1v1h-1zM1053 372h1v1h-1zM1054 373h1v1h-1zM1055 374h1v2h-1zM1056 376h1v1h-1zM1057 377h1v1h-1zM1058 378h1v1h-1zM1059 379h1v2h-1zM1060 381h1v1h-1zM1061 382h1v1h-1zM1062 383h1v1h-1zM1063 384h1v1h-1zM1064 385h1v1h-1zM1065 386h1v1h-1zM1066 387h1v1h-1zM1067 388h1v1h-1zM1068 389h1v2h-1zM1069 391h1v1h-1zM1070 392h1v1h-1zM1071 393h1v1h-1zM1072 394h1v1h-1zM1073 395h1v1h-1zM1074 396h1v1h-1zM1075 397h1v1h-1zM1076 398h1v1h-1zM1077 399h1v1h-1zM1078 400h1v1h-1zM1079 401h1v1h-1zM1080 402h1v1h-1zM1081 403h1v2h-1zM1082 405h1v1h-1zM1083 406h1v1h-1zM1084 407h1v1h-1zM1085 408h1v1h-1zM1086 409h1v1h-1zM1087 410h1v1h-1zM1088 411h1v1h-1zM1089 412h1v1h-1zM1090 413h1v1h-1zM1091 414h1v1h-1zM1092 415h1v1h-1zM1093 416h2v1h-2zM1095 417h1v1h-1zM1096 418h1v1h-1zM1097 419h1v1h-1zM1098 420h2v1h-2zM1100 421h1v1h-1zM1101 422h1v1h-1zM1102 423h2v1h-2zM1104 424h1v1h-1zM1105 425h1v1h-1zM1106 426h1v1h-1zM1107 427h1v1h-1zM1108 428h2v1h-2zM1110 429h1v1h-1zM1111 430h1v1h-1zM1112 431h1v1h-1zM1113 432h1v1h-1zM1114 433h1v1h-1zM1115 434h1v1h-1zM1116 435h1v1h-1zM1117 436h1v1h-1zM1118 437h1v1h-1zM1119 438h1v1h-1zM1120 439h1v1h-1zM1121 440h1v1h-1zM1122 441h2v1h-2zM1124 442h1v1h-1zM1125 443h1v1h-1zM1126 444h1v1h-1zM1127 445h1v1h-1zM1128 446h2v1h-2zM1130 447h1v1h-1zM1131 448h1v1h-1zM1132 449h1v1h-1zM1133 450h1v1h-1zM1134 451h2v1h-2zM1136 452h1v1h-1zM1137 453h1v1h-1zM1138 454h2v1h-2zM1140 455h2v1h-2zM1142 456h2v1h-2zM1144 457h2v1h-2zM1146 458h2v1h-2zM1148 459h2v1h-2zM1150 460h2v1h-2zM1152 461h2v1h-2zM1154 462h3v1h-3zM1157 463h3v1h-3zM1160 464h2v1h-2zM1162 465h3v1h-3zM1165 466h7v1h-7zM1172 465h5v1h-5zM1177 464h2v1h-2zM1179 463h2v1h-2zM1181 462h2v1h-2zM1183 461h2v1h-2zM1185 460h2v1h-2zM1187 459h2v1h-2zM1189 458h2v1h-2zM1191 457h2v1h-2zM1193 456h1v1h-1zM1194 455h2v1h-2zM1196 454h2v1h-2zM1198 453h1v1h-1zM1199 452h1v1h-1zM1200 451h1v1h-1zM1201 450h1v1h-1zM1202 449h2v1h-2zM1204 448h1v1h-1zM1205 447h1v1h-1zM1206 446h1v1h-1zM1207 445h1v1h-1zM1208 444h2v1h-2zM1210 442h1v2h-1zM1211 441h1v1h-1zM1212 440h1v1h-1zM1213 439h1v1h-1zM1214 437h1v2h-1zM1215 436h1v1h-1zM1216 435h1v1h-1zM1217 434h1v1h-1zM1218 432h1v2h-1zM1219 431h1v1h-1zM1220 430h1v1h-1zM1221 429h1v1h-1zM1222 427h1v2h-1zM1223 426h1v1h-1zM1224 425h1v1h-1zM1225 424h2v1h-2zM1227 423h1v1h-1zM1228 422h1v1h-1zM1229 421h1v1h-1zM1230 420h1v1h-1zM1231 419h2v1h-2zM1233 418h1v1h-1zM1234 417h1v1h-1zM1235 416h1v1h-1zM1236 415h1v1h-1zM1237 414h2v1h-2zM1239 413h1v1h-1zM1240 412h1v1h-1zM1241 411h1v1h-1zM1242 410h1v1h-1zM1243 409h1v1h-1zM1244 408h1v1h-1zM1245 407h1v1h-1zM1246 406h1v1h-1zM1247 405h1v1h-1zM1248 404h1v1h-1zM1249 403h1v1h-1zM1250 402h1v1h-1zM1251 401h1v1h-1zM1252 400h1v1h-1zM1253 399h1v1h-1zM1254 398h1v1h-1zM1255 397h1v1h-1zM1256 396h1v1h-1zM1257 395h1v1h-1zM1258 394h1v1h-1zM1259 393h1v1h-1zM1260 392h1v1h-1zM1261 391h1v1h-1zM1262 390h1v1h-1zM1263 389h1v1h-1zM1264 388h1v1h-1zM1265 387h1v1h-1zM1266 386h1v1h-1zM1267 385h2v1h-2zM1269 384h1v1h-1zM1270 383h1v1h-1zM1271 382h1v1h-1zM1272 381h1v1h-1zM1273 379h1v2h-1zM1274 378h1v1h-1zM1275 377h1v1h-1zM1276 376h1v1h-1zM1277 375h1v1h-1zM1278 374h1v1h-1zM1279 373h1v1h-1zM1280 372h1v1h-1zM1281 371h1v1h-1zM1282 369h1v2h-1zM1283 368h1v1h-1zM1284 367h1v1h-1zM1285 366h1v1h-1zM1286 365h1v1h-1zM1287 364h1v1h-1zM1288 363h1v1h-1zM1289 362h1v1h-1zM1290 361h1v1h-1zM1291 359h1v2h-1zM1292 357h1v2h-1zM1293 355h1v2h-1zM1294 353h1v2h-1zM1295 351h1v2h-1zM1296 349h1v2h-1zM1297 347h1v2h-1zM1298 345h1v2h-1zM1299 343h1v2h-1zM1300 341h1v2h-1zM1301 339h1v2h-1zM1302 337h1v2h-1zM1303 335h1v2h-1zM1304 333h1v2h-1zM1305 331h1v2h-1zM1306 329h1v2h-1zM1307 327h1v2h-1zM1308 325h1v2h-1zM1309 323h1v2h-1zM1310 321h1v2h-1zM1311 319h1v2h-1zM1312 317h1v2h-1zM1313 315h1v2h-1zM1314 313h1v2h-1zM1315 311h1v2h-1zM1316 309h1v2h-1zM1317 307h1v2h-1zM1318 305h1v2h-1zM1319 304h1v1h-1zM1320 302h1v2h-1zM1321 300h1v2h-1zM1322 298h1v2h-1zM1323 296h1v2h-1zM1324 294h1v2h-1zM1325 292h1v2h-1zM1326 290h1v2h-1zM1327 289h1v1h-1zM1328 287h1v2h-1zM1329 285h1v2h-1zM1330 283h1v2h-1zM1331 282h1v1h-1zM1332 281h1v1h-1z"/>
<path fill="#ff00ff" d="M4 339h1v1h-1zM5 340h1v1h-1zM6 341h1v1h-1zM7 342h1v1h-1zM8 343h2v1h-2zM10 344h1v1h-1zM11 345h1v1h-1zM12 346h2v1h-2zM14 347h1v1h-1zM15 348h1v1h-1zM16 349h2v1h-2zM18 350h1v1h-1zM19 351h1v1h-1zM20 352h2v1h-2zM22 353h1v1h-1zM23 354h1v1h-1zM24 355h1v1h-1zM25 356h2v1h-2zM27 357h1v1h-1zM28 358h1v1h-1zM29 359h2v1h-2zM31 360h1v1h-1zM32 361h1v1h-1zM33 362h2v1h-2zM35 363h1v1h-1zM36 364h1v1h-1zM37 365h2v1h-2zM39 366h1v1h-1zM40 367h2v1h-2zM42 368h1v1h-1zM43 369h1v1h-1zM44 370h2v1h-2zM46 371h1v1h-1zM47 372h2v1h-2zM49 373h1v1h-1zM50 374h1v1h-1zM51 375h2v1h-2zM53 376h1v1h-1zM54 377h1v1h-1zM55 378h2v1h-2zM57 379h1v1h-1zM58 380h1v1h-1zM59 381h1v1h-1zM60 382h2v1h-2zM62 383h1v1h-1zM63 384h1v1h-1zM64 385h2v1h-2zM66 386h1v1h-1zM67 387h1v1h-1zM68 388h1v1h-1zM69 389h2v1h-2zM71 390h1v1h-1zM72 391h1v1h-1zM73 392h2v1h-2zM75 393h1v1h-1zM76 394h1v1h-1zM77 395h2v1h-2zM79 396h2v1h-2zM81 397h1v1h-1zM82 398h2v1h-2zM84 399h1v1h-1zM85 400h2v1h-2zM87 401h1v1h-1zM88 402h2v1h-2zM90 403h1v1h-1zM91 404h2v1h-2zM93 405h1v1h-1zM94 406h2v1h-2zM96 407h1v1h-1zM97 408h2v1h-2zM99 409h1v1h-1zM100 410h2v1h-2zM102 411h2v1h-2zM104 412h1v1h-1zM105 413h2v1h-2zM107 414h1v1h-1zM108 415h2v1h-2zM110 416h2v1h-2zM112 417h1v1h-1zM113 418h2v1h-2zM115 419h2v1h-2zM117 420h2v1h-2zM119 421h2v1h-2zM121 422h1v1h-1zM122 423h2v1h-2zM124 424h2v1h-2zM126 425h2v1h-2zM128 426h1v1h-1zM129 427h2v1h-2zM131 428h2v1h-2zM133 429h2v1h-2zM135 430h2v1h-2zM137 431h1v1h-1zM138 432h2v1h-2zM140 433h2v1h-2zM142 434h2v1h-2zM144 435h1v1h-1zM145 436h2v1h-2zM147 437h5v1h-5zM152 438h7v1h-7zM159 439h6v1h-6zM165 440h7v1h-7zM172 441h6v1h-6zM178 442h6v1h-6zM184 441h11v1h-11zM195 440h10v1h-10zM205 439h9v1h-9zM214 438h8v1h-8zM222 437h7v1h-7zM229 436h3v1h-3zM232 435h2v1h-2zM234 434h3v1h-3zM237 433h3v1h-3zM240 432h3v1h-3zM243 431h2v1h-2zM245 430h3v1h-3zM248 429h3v1h-3zM251 428h3v1h-3zM254 427h3v1h-3zM257 426h3v1h-3zM260 425h3v1h-3zM263 424h3v1h-3zM266 423h3v1h-3zM269 422h4v1h-4zM273 421h3v1h-3zM276 420h2v1h-2zM278 419h3v1h-3zM281 418h2v1h-2zM283 417h3v1h-3zM286 416h2v1h-2zM288 415h3v1h-3zM291 414h2v1h-2zM293 413h5v1h-5zM298 412h6v1h-6zM304 411h5v1h-5zM309 410h5v1h-5zM314 409h5v1h-5zM319 408h6v1h-6zM325 407h3v1h-3zM328 406h3v1h-3zM331 405h2v1h-2zM333 404h3v1h-3zM336 403h3v1h-3zM339 402h2v1h-2zM341 401h2v1h-2zM343 400h2v1h-2zM345 399h2v1h-2zM347 398h2v1h-2zM349 397h2v1h-2zM351 396h2v1h-2zM353 395h2v1h-2zM355 394h2v1h-2zM357 393h2v1h-2zM359 392h2v1h-2zM361 391h2v1h-2zM363 390h1v1h-1zM364 389h2v1h-2zM366 388h1v1h-1zM367 387h2v1h-2zM369 386h1v1h-1zM370 385h2v1h-2zM372 384h1v1h-1zM373 383h2v1h-2zM375 382h1v1h-1zM376 381h1v1h-1zM377 380h2v1h-2zM379 379h1v1h-1zM380 378h1v1h-1zM381 377h1v1h-1zM382 376h2v1h-2zM384 375h1v1h-1zM385 374h1v1h-1zM386 373h2v1h-2zM388 372h1v1h-1zM389 371h1v1h-1zM390 370h1v1h-1zM391 369h2v1h-2zM393 368h2v1h-2zM395 367h1v1h-1zM396 366h2v1h-2zM398 365h2v1h-2zM400 364h2v1h-2zM402 363h2v1h-2zM404 362h2v1h-2zM406 361h2v1h-2zM408 360h1v1h-1zM409 359h2v1h-2zM411 358h2v1h-2zM413 357h2v1h-2zM415 356h2v1h-2zM417 355h2v1h-2zM419 354h2v1h-2zM421 353h2v1h-2zM423 352h2v1h-2zM425 351h2v1h-2zM427 350h2v1h-2zM429 349h2v1h-2zM431 348h2v1h-2zM433 347h2v1h-2zM435 346h2v1h-2zM437 345h2v1h-2zM439 344h3v1h-3zM442 343h3v1h-3zM445 342h3v1h-3zM448 341h3v1h-3zM451 340h3v1h-3zM454 339h3v1h-3zM457 338h3v1h-3zM460 337h3v1h-3zM463 336h3v1h-3zM466 335h3v1h-3zM469 334h3v1h-3zM472 333h4v1h-4zM476 332h3v1h-3zM479 331h25v1h-25zM504 330h7v1h-7zM511 329h32v1h-32zM543 330h9v1h-9zM552 331h2v1h-2zM554 330h14v1h-14zM568 331h4v1h-4zM572 332h22v1h-22zM594 331h11v1h-11zM605 330h7v1h-7zM612 329h6v1h-6zM618 328h13v1h-13zM631 329h8v1h-8zM639 330h7v1h-7zM646 331h20v1h-20zM666 332h15v1h-15zM681 331h6v1h-6zM687 330h7v1h-7zM694 329h6v1h-6zM700 328h7v1h-7zM707 327h4v1h-4zM711 326h3v1h-3zM714 325h4v1h-4zM718 324h4v1h-4zM722 323h3v1h-3zM725 322h4v1h-4zM729 321h3v1h-3zM732 320h4v1h-4zM736 319h2v1h-2zM738 318h3v1h-3zM741 317h3v1h-3zM744 316h2v1h-2zM746 315h3v1h-3zM749 314h3v1h-3zM752 313h2v1h-2zM754 312h3v1h-3zM757 311h3v1h-3zM760 310h2v1h-2zM762 309h3v1h-3zM765 308h2v1h-2zM767 307h3v1h-3zM770 306h2v1h-2zM772 305h3v1h-3zM775 304h2v1h-2zM777 303h3v1h-3zM780 302h2v1h-2zM782 301h3v1h-3zM785 300h2v1h-2zM787 299h7v1h-7zM794 298h7v1h-7zM801 297h23v1h-23zM824 298h4v1h-4zM828 299h4v1h-4zM832 300h3v1h-3zM835 301h4v1h-4zM839 302h3v1h-3zM842 303h4v1h-4zM846 304h3v1h-3zM849 305h4v1h-4zM853 306h3v1h-3zM856 307h4v1h-4zM860 308h3v1h-3zM863 309h4v1h-4zM867 310h3v1h-3zM870 311h4v1h-4zM874 312h4v1h-4zM878 313h3v1h-3zM881 314h4v1h-4zM885 315h4v1h-4zM889 316h3v1h-3zM892 317h5v1h-5zM897 318h7v1h-7zM904 319h6v1h-6zM910 320h7v1h-7zM917 321h3v1h-3zM920 320h7v1h-7zM927 319h8v1h-8zM935 318h8v1h-8zM943 317h18v1h-18zM961 316h20v1h-20zM981 315h14v1h-14zM995 314h6v1h-6zM1001 315h8v1h-8zM1009 316h5v1h-5zM1014 317h3v1h-3zM1017 318h3v1h-3zM1020 319h3v1h-3zM1023 320h3v1h-3zM1026 321h4v1h-4zM1030 322h3v1h-3zM1033 323h3v1h-3zM1036 324h3v1h-3zM1039 325h2v1h-2zM1041 326h3v1h-3zM1044 327h3v1h-3zM1047 328h2v1h-2zM1049 329h3v1h-3zM1052 330h3v1h-3zM1055 331h2v1h-2zM1057 332h3v1h-3zM1060 333h2v1h-2zM1062 334h2v1h-2zM1064 335h2v1h-2zM1066 336h2v1h-2zM1068 337h2v1h-2zM1070 338h2v1h-2zM1072 339h2v1h-2zM1074 340h2v1h-2zM1076 341h2v1h-2zM1078 342h2v1h-2zM1080 343h3v1h-3zM1083 344h3v1h-3zM1086 345h3v1h-3zM1089 346h3v1h-3zM1092 347h3v1h-3zM1095 348h2v1h-2zM1097 349h3v1h-3zM1100 350h3v1h-3zM1103 351h3v1h-3zM1106 352h2v1h-2zM1108 353h3v1h-3zM1111 354h2v1h-2zM1113 355h3v1h-3zM1116 356h2v1h-2zM1118 357h3v1h-3zM1121 358h3v1h-3zM1124 359h3v1h-3zM1127 360h4v1h-4zM1131 361h4v1h-4zM1135 362h4v1h-4zM1139 363h5v1h-5zM1144 364h7v1h-7zM1151 365h7v1h-7zM1158 366h6v1h-6zM1164 367h5v1h-5zM1169 368h5v1h-5zM1174 369h5v1h-5zM1179 370h4v1h-4zM1183 371h4v1h-4zM1187 372h3v1h-3zM1190 373h4v1h-4zM1194 374h3v1h-3zM1197 375h3v1h-3zM1200 376h6v1h-6zM1206 377h5v1h-5zM1211 378h5v1h-5zM1216 379h5v1h-5zM1221 380h5v1h-5zM1226 381h3v1h-3zM1229 382h3v1h-3zM1232 383h4v1h-4zM1236 384h4v1h-4zM1240 385h7v1h-7zM1247 386h7v1h-7zM1254 387h25v1h-25zM1279 386h6v1h-6zM1285 385h6v1h-6zM1291 384h4v1h-4zM1295 383h2v1h-2zM1297 382h2v1h-2zM1299 381h2v1h-2zM1301 380h2v1h-2zM1303 379h2v1h-2zM1305 378h1v1h-1zM1306 377h2v1h-2zM1308 376h2v1h-2zM1310 375h2v1h-2zM1312 374h2v1h-2zM1314 373h2v1h-2zM1316 372h1v1h-1zM1317 371h2v1h-2zM1319 370h2v1h-2zM1321 369h2v1h-2zM1323 368h2v1h-2zM1325 367h1v1h-1zM1326 366h2v1h-2zM1328 365h2v1h-2zM1330 364h2v1h-2zM1332 363h1v1h-1z"/>
<rect x="4" y="70" width="1680" height="2" fill="#ff0000"/>
<rect x="4" y="295" width="1680" height="2" fill="#28c828"/>
<rect x="4" y="548" width="1680" height="2" fill="#4169e1"/>
<rect x="4" y="687" width="1" height="9" fill="#c0c0c0"/><rect x="12" y="687" width="1" height="1" fill="#c0c0c0"/><rect x="20" y="679" width="1" height="9" fill="#c0c0c0"/><rect x="28" y="677" width="1" height="11" fill="#c0c0c0"/><rect x="36" y="677" width="1" height="11" fill="#c0c0c0"/><rect x="44" y="679" width="1" height="9" fill="#c0c0c0"/><rect x="52" y="674" width="1" height="14" fill="#c0c0c0"/><rect x="60" y="675" width="1" height="13" fill="#c0c0c0"/><rect x="68" y="675" width="1" height="13" fill="#c0c0c0"/><rect x="76" y="674" width="1" height="14" fill="#c0c0c0"/><rect x="84" y="670" width="1" height="18" fill="#c0c0c0"/><rect x="92" y="666" width="1" height="22" fill="#c0c0c0"/><rect x="100" y="657" width="1" height="31" fill="#c0c0c0"/><rect x="108" y="656" width="1" height="32" fill="#c0c0c0"/><rect x="116" y="654" width="1" height="34" fill="#c0c0c0"/><rect x="124" y="657" width="1" height="31" fill="#c0c0c0"/><rect x="132" y="654" width="1" height="34" fill="#c0c0c0"/><rect x="140" y="651" width="1" height="37" fill="#c0c0c0"/><rect x="148" y="654" width="1" height="34" fill="#c0c0c0"/><rect x="156" y="654" width="1" height="34" fill="#c0c0c0"/><rect x="164" y="655" width="1" height="33" fill="#c0c0c0"/><rect x="172" y="662" width="1" height="26" fill="#c0c0c0"/><rect x="180" y="668" width="1" height="20" fill="#c0c0c0"/><rect x="188" y="667" width="1" height="21" fill="#c0c0c0"/><rect x="196" y="662" width="1" height="26" fill="#c0c0c0"/><rect x="204" y="659" width="1" height="29" fill="#c0c0c0"/><rect x="212" y="657" width="1" height="31" fill="#c0c0c0"/><rect x="220" y="655" width="1" height="33" fill="#c0c0c0"/><rect x="228" y="656" width="1" height="32" fill="#c0c0c0"/><rect x="236" y="652" width="1" height="36" fill="#c0c0c0"/><rect x="244" y="658" width="1" height="30" fill="#c0c0c0"/><rect x="252" y="669" width="1" height="19" fill="#c0c0c0"/><rect x="260" y="683" width="1" height="5" fill="#c0c0c0"/><rect x="268" y="687" width="1" height="3" fill="#c0c0c0"/><rect x="276" y="687" width="1" height="5" fill="#c0c0c0"/><rect x="284" y="687" width="1" height="9" fill="#c0c0c0"/><rect x="292" y="687" width="1" height="13" fill="#c0c0c0"/><rect x="300" y="687" width="1" height="17" fill="#c0c0c0"/><rect x="308" y="687" width="1" height="18" fill="#c0c0c0"/><rect x="316" y="687" width="1" height="19" fill="#c0c0c0"/><rect x="324" y="687" width="1" height="18" fill="#c0c0c0"/><rect x="332" y="687" width="1" height="17" fill="#c0c0c0"/><rect x="340" y="687" width="1" height="15" fill="#c0c0c0"/><rect x="348" y="687" width="1" height="13" fill="#c0c0c0"/><rect x="356" y="687" width="1" height="10" fill="#c0c0c0"/><rect x="364" y="686" width="1" height="2" fill="#c0c0c0"/><rect x="372" y="680" width="1" height="8" fill="#c0c0c0"/><rect x="380" y="673" width="1" height="15" fill="#c0c0c0"/><rect x="388" y="664" width="1" height="24" fill="#c0c0c0"/><rect x="396" y="654" width="1" height="34" fill="#c0c0c0"/><rect x="404" y="646" width="1" height="42" fill="#c0c0c0"/><rect x="412" y="641" width="1" height="47" fill="#c0c0c0"/><rect x="420" y="638" width="1" height="50" fill="#c0c0c0"/><rect x="428" y="637" width="1" height="51" fill="#c0c0c0"/><rect x="436" y="637" width="1" height="51" fill="#c0c0c0"/><rect x="444" y="639" width="1" height="49" fill="#c0c0c0"/><rect x="452" y="639" width="1" height="49" fill="#c0c0c0"/><rect x="460" y="647" width="1" height="41" fill="#c0c0c0"/><rect x="468" y="650" width="1" height="38" fill="#c0c0c0"/><rect x="476" y="652" width="1" height="36" fill="#c0c0c0"/><rect x="484" y="666" width="1" height="22" fill="#c0c0c0"/><rect x="492" y="677" width="1" height="11" fill="#c0c0c0"/><rect x="508" y="687" width="1" height="7" fill="#c0c0c0"/><rect x="516" y="687" width="1" height="11" fill="#c0c0c0"/><rect x="524" y="687" width="1" height="13" fill="#c0c0c0"/><rect x="532" y="687" width="1" height="12" fill="#c0c0c0"/><rect x="540" y="687" width="1" height="13" fill="#c0c0c0"/><rect x="548" y="687" width="1" height="15" fill="#c0c0c0"/><rect x="556" y="687" width="1" height="17" fill="#c0c0c0"/><rect x="564" y="687" width="1" height="15" fill="#c0c0c0"/><rect x="572" y="687" width="1" height="19" fill="#c0c0c0"/><rect x="580" y="687" width="1" height="16" fill="#c0c0c0"/><rect x="588" y="687" width="1" height="13" fill="#c0c0c0"/><rect x="596" y="687" width="1" height="9" fill="#c0c0c0"/><rect x="604" y="687" width="1" height="7" fill="#c0c0c0"/><rect x="612" y="687" width="1" height="3" fill="#c0c0c0"/><rect x="628" y="687" width="1" height="3" fill="#c0c0c0"/><rect x="636" y="687" width="1" height="3" fill="#c0c0c0"/><rect x="644" y="687" width="1" height="5" fill="#c0c0c0"/><rect x="652" y="687" width="1" height="6" fill="#c0c0c0"/><rect x="660" y="687" width="1" height="1" fill="#c0c0c0"/><rect x="668" y="685" width="1" height="3" fill="#c0c0c0"/><rect x="676" y="684" width="1" height="4" fill="#c0c0c0"/><rect x="684" y="687" width="1" height="1" fill="#c0c0c0"/><rect x="708" y="687" width="1" height="3" fill="#c0c0c0"/><rect x="732" y="685" width="1" height="3" fill="#c0c0c0"/><rect x="740" y="683" width="1" height="5" fill="#c0c0c0"/><rect x="748" y="677" width="1" height="11" fill="#c0c0c0"/><rect x="756" y="673" width="1" height="15" fill="#c0c0c0"/><rect x="764" y="671" width="1" height="17" fill="#c0c0c0"/><rect x="772" y="665" width="1" height="23" fill="#c0c0c0"/><rect x="780" y="662" width="1" height="26" fill="#c0c0c0"/><rect x="788" y="661" width="1" height="27" fill="#c0c0c0"/><rect x="796" y="664" width="1" height="24" fill="#c0c0c0"/><rect x="804" y="664" width="1" height="24" fill="#c0c0c0"/><rect x="812" y="666" width="1" height="22" fill="#c0c0c0"/><rect x="820" y="676" width="1" height="12" fill="#c0c0c0"/><rect x="828" y="681" width="1" height="7" fill="#c0c0c0"/><rect x="836" y="685" width="1" height="3" fill="#c0c0c0"/><rect x="844" y="687" width="1" height="1" fill="#c0c0c0"/><rect x="868" y="687" width="1" height="5" fill="#c0c0c0"/><rect x="876" y="687" width="1" height="8" fill="#c0c0c0"/><rect x="884" y="687" width="1" height="11" fill="#c0c0c0"/><rect x="892" y="687" width="1" height="15" fill="#c0c0c0"/><rect x="900" y="687" width="1" height="17" fill="#c0c0c0"/><rect x="908" y="687" width="1" height="15" fill="#c0c0c0"/><rect x="916" y="687" width="1" height="14" fill="#c0c0c0"/><rect x="924" y="687" width="1" height="13" fill="#c0c0c0"/><rect x="932" y="687" width="1" height="12" fill="#c0c0c0"/><rect x="940" y="687" width="1" height="10" fill="#c0c0c0"/><rect x="948" y="687" width="1" height="10" fill="#c0c0c0"/><rect x="956" y="687" width="1" height="10" fill="#c0c0c0"/><rect x="964" y="687" width="1" height="7" fill="#c0c0c0"/><rect x="972" y="687" width="1" height="5" fill="#c0c0c0"/><rect x="980" y="687" width="1" height="5" fill="#c0c0c0"/><rect x="988" y="687" width="1" height="3" fill="#c0c0c0"/><rect x="996" y="687" width="1" height="3" fill="#c0c0c0"/><rect x="1004" y="687" width="1" height="8" fill="#c0c0c0"/><rect x="1012" y="687" width="1" height="19" fill="#c0c0c0"/><rect x="1020" y="687" width="1" height="30" fill="#c0c0c0"/><rect x="1028" y="687" width="1" height="35" fill="#c0c0c0"/><rect x="1036" y="687" width="1" height="38" fill="#c0c0c0"/><rect x="1044" y="687" width="1" height="40" fill="#c0c0c0"/><rect x="1052" y="687" width="1" height="47" fill="#c0c0c0"/><rect x="1060" y="687" width="1" height="52" fill="#c0c0c0"/><rect x="1068" y="687" width="1" height="56" fill="#c0c0c0"/><rect x="1076" y="687" width="1" height="58" fill="#c0c0c0"/><rect x="1084" y="687" width="1" height="56" fill="#c0c0c0"/><rect x="1092" y="687" width="1" height="56" fill="#c0c0c0"/><rect x="1100" y="687" width="1" height="51" fill="#c0c0c0"/><rect x="1108" y="687" width="1" height="47" fill="#c0c0c0"/><rect x="1116" y="687" width="1" height="42" fill="#c0c0c0"/><rect x="1124" y="687" width="1" height="40" fill="#c0c0c0"/><rect x="1132" y="687" width="1" height="35" fill="#c0c0c0"/><rect x="1140" y="687" width="1" height="30" fill="#c0c0c0"/><rect x="1148" y="687" width="1" height="25" fill="#c0c0c0"/><rect x="1156" y="687" width="1" height="18" fill="#c0c0c0"/><rect x="1164" y="687" width="1" height="10" fill="#c0c0c0"/><rect x="1172" y="687" width="1" height="5" fill="#c0c0c0"/><rect x="1180" y="687" width="1" height="1" fill="#c0c0c0"/><rect x="1196" y="682" width="1" height="6" fill="#c0c0c0"/><rect x="1204" y="674" width="1" height="14" fill="#c0c0c0"/><rect x="1212" y="668" width="1" height="20" fill="#c0c0c0"/><rect x="1220" y="660" width="1" height="28" fill="#c0c0c0"/><rect x="1228" y="663" width="1" height="25" fill="#c0c0c0"/><rect x="1236" y="667" width="1" height="21" fill="#c0c0c0"/><rect x="1244" y="666" width="1" height="22" fill="#c0c0c0"/><rect x="1252" y="665" width="1" height="23" fill="#c0c0c0"/><rect x="1260" y="665" width="1" height="23" fill="#c0c0c0"/><rect x="1268" y="665" width="1" height="23" fill="#c0c0c0"/><rect x="1276" y="664" width="1" height="24" fill="#c0c0c0"/><rect x="1284" y="660" width="1" height="28" fill="#c0c0c0"/><rect x="1292" y="653" width="1" height="35" fill="#c0c0c0"/><rect x="1300" y="637" width="1" height="51" fill="#c0c0c0"/><rect x="1308" y="621" width="1" height="67" fill="#c0c0c0"/><rect x="1316" y="613" width="1" height="75" fill="#c0c0c0"/><rect x="1324" y="607" width="1" height="81" fill="#c0c0c0"/><rect x="1332" y="603" width="1" height="85" fill="#c0c0c0"/>
<path fill="#ff0000" d="M4 731h1v1h-1zM5 730h1v1h-1zM6 729h1v1h-1zM10 724h1v2h-1zM11 723h1v1h-1zM15 718h1v2h-1zM16 717h1v1h-1zM19 714h1v1h-1zM20 712h1v1h-1zM21 711h1v1h-1zM25 707h1v1h-1zM26 706h1v1h-1zM27 705h1v1h-1zM31 701h1v1h-1zM32 700h1v1h-1zM33 699h1v1h-1zM37 696h1v1h-1zM38 695h2v1h-2zM43 692h1v1h-1zM44 691h2v1h-2zM49 689h1v1h-1zM50 688h2v1h-2zM55 686h1v1h-1zM56 685h2v1h-2zM61 683h2v1h-2zM63 682h1v1h-1zM67 680h2v1h-2zM69 679h1v1h-1zM73 678h2v1h-2zM75 677h1v1h-1zM79 676h3v1h-3zM85 675h1v1h-1zM86 674h2v1h-2zM91 673h2v1h-2zM93 672h1v1h-1zM97 671h3v1h-3zM103 670h2v1h-2zM105 669h1v1h-1zM109 668h2v1h-2zM111 667h1v1h-1zM115 666h2v1h-2zM117 665h1v1h-1zM121 664h3v1h-3zM127 663h1v1h-1zM128 662h2v1h-2zM133 661h1v1h-1zM134 660h2v1h-2zM139 658h3v1h-3zM145 657h2v1h-2zM147 656h1v1h-1zM151 656h2v1h-2zM153 655h1v1h-1zM157 655h2v1h-2zM159 654h1v1h-1zM163 654h3v1h-3zM169 654h1v1h-1zM170 655h2v1h-2zM175 655h2v1h-2zM177 656h1v1h-1zM181 656h3v1h-3zM187 657h3v1h-3zM193 657h1v1h-1zM194 658h2v1h-2zM199 658h3v1h-3zM205 658h3v1h-3zM211 658h1v1h-1zM212 659h2v1h-2zM217 659h3v1h-3zM223 659h3v1h-3zM229 659h2v1h-2zM231 658h1v1h-1zM235 658h3v1h-3zM241 658h3v1h-3zM247 658h3v1h-3zM253 659h3v1h-3zM259 660h3v1h-3zM265 662h2v1h-2zM267 663h1v1h-1zM271 665h2v1h-2zM273 666h1v1h-1zM277 668h2v1h-2zM279 669h1v1h-1zM283 671h2v1h-2zM285 672h1v1h-1zM289 674h1v1h-1zM290 675h2v1h-2zM295 678h1v1h-1zM296 679h1v1h-1zM297 680h1v1h-1zM301 683h2v1h-2zM303 684h1v1h-1zM307 687h1v1h-1zM308 688h1v1h-1zM309 689h1v1h-1zM313 691h1v1h-1zM314 692h1v1h-1zM315 693h1v1h-1zM319 695h1v1h-1zM320 696h2v1h-2zM325 698h2v1h-2zM327 699h1v1h-1zM331 699h1v1h-1zM332 700h2v1h-2zM337 700h3v1h-3zM343 701h3v1h-3zM349 702h3v1h-3zM355 702h3v1h-3zM361 701h3v1h-3zM367 700h1v1h-1zM368 699h2v1h-2zM373 698h1v1h-1zM374 697h2v1h-2zM379 695h2v1h-2zM381 694h1v1h-1zM385 692h2v1h-2zM387 691h1v1h-1zM391 689h1v1h-1zM392 688h1v1h-1zM393 687h1v1h-1zM397 684h1v1h-1zM398 683h2v1h-2zM403 679h1v1h-1zM404 678h1v1h-1zM405 677h1v1h-1zM409 674h1v1h-1zM410 673h2v1h-2zM415 669h2v1h-2zM417 668h1v1h-1zM421 664h1v1h-1zM422 663h1v1h-1zM423 662h1v1h-1zM427 658h1v1h-1zM428 657h1v1h-1zM429 656h1v1h-1zM433 653h2v1h-2zM435 652h1v1h-1zM439 650h1v1h-1zM440 649h2v1h-2zM445 646h2v1h-2zM447 645h1v1h-1zM451 643h3v1h-3zM457 641h3v1h-3zM463 641h3v1h-3zM469 641h3v1h-3zM475 641h3v1h-3zM481 642h1v1h-1zM482 643h2v1h-2zM487 645h1v1h-1zM488 646h1v1h-1zM489 647h1v1h-1zM493 649h1v1h-1zM494 650h2v1h-2zM499 653h2v1h-2zM501 654h1v1h-1zM505 657h1v1h-1zM506 658h1v1h-1zM507 659h1v1h-1zM511 662h1v1h-1zM512 663h1v1h-1zM513 664h1v1h-1zM517 668h1v1h-1zM518 669h1v1h-1zM519 670h1v1h-1zM523 673h2v1h-2zM525 674h1v1h-1zM529 677h2v1h-2zM531 678h1v1h-1zM535 681h1v1h-1zM536 682h2v1h-2zM541 685h1v1h-1zM542 686h1v1h-1zM543 687h1v1h-1zM547 689h1v1h-1zM548 690h2v1h-2zM553 693h2v1h-2zM555 694h1v1h-1zM559 696h3v1h-3zM565 698h2v1h-2zM567 699h1v1h-1zM571 699h2v1h-2zM573 700h1v1h-1zM577 700h3v1h-3zM583 701h3v1h-3zM589 701h3v1h-3zM595 701h1v1h-1zM596 700h2v1h-2zM601 700h3v1h-3zM607 699h3v1h-3zM613 698h3v1h-3zM619 697h3v1h-3zM625 697h1v1h-1zM626 696h2v1h-2zM631 696h1v1h-1zM632 695h2v1h-2zM637 694h3v1h-3zM643 693h3v1h-3zM649 692h3v1h-3zM655 691h3v1h-3zM661 690h3v1h-3zM667 689h3v1h-3zM673 689h1v1h-1zM674 688h2v1h-2zM679 688h3v1h-3zM685 688h3v1h-3zM691 688h3v1h-3zM697 688h3v1h-3zM703 688h3v1h-3zM709 688h3v1h-3zM715 688h3v1h-3zM721 687h3v1h-3zM727 687h3v1h-3zM733 687h3v1h-3zM739 686h3v1h-3zM745 686h3v1h-3zM751 685h3v1h-3zM757 684h2v1h-2zM759 683h1v1h-1zM763 682h3v1h-3zM769 680h2v1h-2zM771 679h1v1h-1zM775 678h1v1h-1zM776 677h2v1h-2zM781 676h1v1h-1zM782 675h2v1h-2zM787 674h1v1h-1zM788 673h2v1h-2zM793 671h3v1h-3zM799 669h3v1h-3zM805 668h2v1h-2zM807 667h1v1h-1zM811 667h2v1h-2zM813 666h1v1h-1zM817 666h3v1h-3zM823 666h3v1h-3zM829 666h1v1h-1zM830 667h2v1h-2zM835 667h1v1h-1zM836 668h2v1h-2zM841 670h2v1h-2zM843 671h1v1h-1zM847 672h1v1h-1zM848 673h2v1h-2zM853 674h2v1h-2zM855 675h1v1h-1zM859 676h3v1h-3zM865 678h2v1h-2zM867 679h1v1h-1zM871 680h1v1h-1zM872 681h2v1h-2zM877 683h1v1h-1zM878 684h2v1h-2zM883 686h2v1h-2zM885 687h1v1h-1zM889 689h3v1h-3zM895 691h3v1h-3zM901 693h3v1h-3zM907 694h1v1h-1zM908 695h2v1h-2zM913 696h3v1h-3zM919 697h3v1h-3zM925 698h3v1h-3zM931 698h1v1h-1zM932 699h2v1h-2zM937 699h2v1h-2zM939 700h1v1h-1zM943 700h3v1h-3zM949 700h3v1h-3zM955 700h3v1h-3zM961 700h1v1h-1zM962 699h2v1h-2zM967 699h3v1h-3zM973 698h3v1h-3zM979 697h3v1h-3zM985 696h1v1h-1zM986 695h2v1h-2zM991 695h2v1h-2zM993 694h1v1h-1zM997 694h3v1h-3zM1003 694h3v1h-3zM1009 694h1v1h-1zM1010 695h2v1h-2zM1015 695h1v1h-1zM1016 696h2v1h-2zM1021 697h3v1h-3zM1027 698h2v1h-2zM1029 699h1v1h-1zM1033 701h2v1h-2zM1035 702h1v1h-1zM1039 704h2v1h-2zM1041 705h1v1h-1zM1045 707h1v1h-1zM1046 708h2v1h-2zM1051 711h2v1h-2zM1053 712h1v1h-1zM1057 715h1v1h-1zM1058 716h2v1h-2zM1063 719h1v1h-1zM1064 720h2v1h-2zM1069 723h1v1h-1zM1070 724h2v1h-2zM1075 727h2v1h-2zM1077 728h1v1h-1zM1081 730h2v1h-2zM1083 731h1v1h-1zM1087 733h2v1h-2zM1089 734h1v1h-1zM1093 735h2v1h-2zM1095 736h1v1h-1zM1099 736h2v1h-2zM1101 737h1v1h-1zM1105 737h3v1h-3zM1111 738h3v1h-3zM1117 739h3v1h-3zM1123 738h3v1h-3zM1129 737h1v1h-1zM1130 736h2v1h-2zM1135 735h1v1h-1zM1136 734h2v1h-2zM1141 733h1v1h-1zM1142 732h2v1h-2zM1147 730h1v1h-1zM1148 729h2v1h-2zM1153 726h2v1h-2zM1155 725h1v1h-1zM1159 723h2v1h-2zM1161 722h1v1h-1zM1165 719h2v1h-2zM1167 718h1v1h-1zM1171 715h2v1h-2zM1173 714h1v1h-1zM1177 712h1v1h-1zM1178 711h1v1h-1zM1179 710h1v1h-1zM1183 708h1v1h-1zM1184 707h2v1h-2zM1189 704h2v1h-2zM1191 703h1v1h-1zM1195 700h2v1h-2zM1197 699h1v1h-1zM1201 696h2v1h-2zM1203 695h1v1h-1zM1207 692h2v1h-2zM1209 691h1v1h-1zM1213 688h2v1h-2zM1215 687h1v1h-1zM1219 684h2v1h-2zM1221 683h1v1h-1zM1225 681h1v1h-1zM1226 680h2v1h-2zM1231 678h1v1h-1zM1232 677h2v1h-2zM1237 675h1v1h-1zM1238 674h2v1h-2zM1243 672h2v1h-2zM1245 671h1v1h-1zM1249 670h1v1h-1zM1250 669h2v1h-2zM1255 668h2v1h-2zM1257 667h1v1h-1zM1261 666h3v1h-3zM1267 665h3v1h-3zM1273 665h1v1h-1zM1274 664h2v1h-2zM1279 664h1v1h-1zM1280 663h2v1h-2zM1285 662h3v1h-3zM1291 661h3v1h-3zM1297 659h3v1h-3zM1303 657h1v1h-1zM1304 656h1v1h-1zM1305 655h1v1h-1zM1309 653h1v1h-1zM1310 652h1v1h-1zM1311 651h1v1h-1zM1315 648h1v1h-1zM1316 647h2v1h-2zM1321 644h2v1h-2zM1323 643h1v1h-1zM1327 640h1v1h-1zM1328 639h2v1h-2z"/>
<line x1="5" y1="791.5" x2="1684" y2="791.5" stroke="#c0c0c0" stroke-dasharray="3 3"/>
<line x1="5" y1="836.5" x2="1684" y2="836.5" stroke="#c0c0c0" stroke-dasharray="3 3"/>
<path fill="#1e90ff" d="M4 804h2v1h-2zM6 803h1v1h-1zM7 802h2v1h-2zM9 801h1v1h-1zM10 800h2v1h-2zM12 799h4v1h-4zM16 800h5v1h-5zM21 801h1v1h-1zM22 802h1v1h-1zM23 803h1v1h-1zM24 804h1v1h-1zM25 805h1v1h-1zM26 806h1v1h-1zM27 807h1v1h-1zM28 808h4v1h-4zM32 809h5v1h-5zM37 810h2v1h-2zM39 811h2v1h-2zM41 812h3v1h-3zM44 813h1v1h-1zM45 811h1v2h-1zM46 810h1v1h-1zM47 809h1v1h-1zM48 808h1v1h-1zM49 806h1v2h-1zM50 805h1v1h-1zM51 804h1v1h-1zM52 803h1v1h-1zM53 804h1v1h-1zM54 805h1v1h-1zM55 806h1v2h-1zM56 808h1v1h-1zM57 809h1v1h-1zM58 810h1v1h-1zM59 811h1v1h-1zM60 812h5v1h-5zM65 811h4v1h-4zM69 810h3v1h-3zM72 809h2v1h-2zM74 808h2v1h-2zM76 807h2v1h-2zM78 806h3v1h-3zM81 805h3v1h-3zM84 804h2v1h-2zM86 803h3v1h-3zM89 802h3v1h-3zM92 801h1v1h-1zM93 800h2v1h-2zM95 799h1v1h-1zM96 798h1v1h-1zM97 797h2v1h-2zM99 796h1v1h-1zM100 795h1v1h-1zM101 796h1v1h-1zM102 797h1v1h-1zM103 798h2v1h-2zM105 799h1v1h-1zM106 800h1v1h-1zM107 801h1v1h-1zM108 802h6v1h-6zM114 803h3v1h-3zM117 804h1v1h-1zM118 805h1v1h-1zM119 806h1v1h-1zM120 807h1v1h-1zM121 808h1v1h-1zM122 809h1v1h-1zM123 810h1v1h-1zM124 811h1v1h-1zM125 809h1v2h-1zM126 808h1v1h-1zM127 807h1v1h-1zM128 806h1v1h-1zM129 804h1v2h-1zM130 803h1v1h-1zM131 802h1v1h-1zM132 801h7v1h-7zM139 802h2v1h-2zM141 803h2v1h-2zM143 804h1v1h-1zM144 805h1v1h-1zM145 806h1v1h-1zM146 807h1v1h-1zM147 808h1v1h-1zM148 809h2v1h-2zM150 808h4v1h-4zM154 807h11v1h-11zM165 808h1v1h-1zM166 809h1v1h-1zM167 810h1v1h-1zM168 811h1v1h-1zM169 812h1v1h-1zM170 813h1v1h-1zM171 814h1v1h-1zM172 815h4v1h-4zM176 816h5v1h-5zM181 815h1v1h-1zM182 814h1v1h-1zM183 813h1v1h-1zM184 812h2v1h-2zM186 811h1v1h-1zM187 810h1v1h-1zM188 809h1v1h-1zM189 808h1v1h-1zM190 807h1v1h-1zM191 806h1v1h-1zM192 805h1v1h-1zM193 804h1v1h-1zM194 803h1v1h-1zM195 802h1v1h-1zM196 801h2v1h-2zM198 802h2v1h-2zM200 803h3v1h-3zM203 804h4v1h-4zM207 803h4v1h-4zM211 802h6v1h-6zM217 803h5v1h-5zM222 804h3v1h-3zM225 805h2v1h-2zM227 806h2v1h-2zM229 805h1v1h-1zM230 804h2v1h-2zM232 803h1v1h-1zM233 802h1v1h-1zM234 801h2v1h-2zM236 800h1v2h-1zM237 802h1v1h-1zM238 803h1v2h-1zM239 805h1v1h-1zM240 806h1v2h-1zM241 808h1v2h-1zM242 810h1v1h-1zM243 811h1v2h-1zM244 813h1v1h-1zM245 814h1v1h-1zM246 815h1v1h-1zM247 816h1v1h-1zM248 817h1v1h-1zM249 818h1v2h-1zM250 820h1v1h-1zM251 821h1v1h-1zM252 822h2v1h-2zM254 823h2v1h-2zM256 824h2v1h-2zM258 825h2v1h-2zM260 826h2v1h-2zM262 825h4v1h-4zM266 824h3v1h-3zM269 823h1v1h-1zM270 822h1v1h-1zM271 821h1v1h-1zM272 820h1v1h-1zM273 819h2v1h-2zM275 818h1v1h-1zM276 817h3v1h-3zM279 818h4v1h-4zM283 819h4v1h-4zM287 820h4v1h-4zM291 821h5v1h-5zM296 820h17v1h-17zM313 821h4v1h-4zM317 820h2v1h-2zM319 819h2v1h-2zM321 818h1v1h-1zM322 817h2v1h-2zM324 816h5v1h-5zM329 815h5v1h-5zM334 816h3v1h-3zM337 817h2v1h-2zM339 818h2v1h-2zM341 817h2v1h-2zM343 816h1v1h-1zM344 815h2v1h-2zM346 814h2v1h-2zM348 813h4v1h-4zM352 812h4v1h-4zM356 811h1v2h-1zM357 810h1v1h-1zM358 809h1v1h-1zM359 807h1v2h-1zM360 806h1v1h-1zM361 804h1v2h-1zM362 803h1v1h-1zM363 801h1v2h-1zM364 800h5v1h-5zM369 799h12v1h-12zM381 798h2v1h-2zM383 797h1v1h-1zM384 796h2v1h-2zM386 795h2v1h-2zM388 794h2v1h-2zM390 793h2v1h-2zM392 792h1v1h-1zM393 791h2v1h-2zM395 790h11v1h-11zM406 791h3v1h-3zM409 792h2v1h-2zM411 793h5v1h-5zM416 794h6v1h-6zM422 795h4v1h-4zM426 796h4v1h-4zM430 797h4v1h-4zM434 798h12v1h-12zM446 797h4v1h-4zM450 796h2v1h-2zM452 796h1v2h-1zM453 798h1v2h-1zM454 800h1v2h-1zM455 802h1v2h-1zM456 804h1v3h-1zM457 807h1v2h-1zM458 809h1v2h-1zM459 811h1v2h-1zM460 813h1v1h-1zM461 812h1v1h-1zM462 811h2v1h-2zM464 810h1v1h-1zM465 809h1v1h-1zM466 808h1v1h-1zM467 807h2v1h-2zM469 806h4v1h-4zM473 805h3v1h-3zM476 805h1v2h-1zM477 807h1v3h-1zM478 810h1v2h-1zM479 812h1v3h-1zM480 815h1v3h-1zM481 818h1v2h-1zM482 820h1v3h-1zM483 823h1v2h-1zM484 825h1v1h-1zM485 826h4v1h-4zM489 827h8v1h-8zM497 826h6v1h-6zM503 825h4v1h-4zM507 824h11v1h-11zM518 823h1v1h-1zM519 822h2v1h-2zM521 821h2v1h-2zM523 820h1v1h-1zM524 819h2v1h-2zM526 818h3v1h-3zM529 817h2v1h-2zM531 816h3v1h-3zM534 817h2v1h-2zM536 818h3v1h-3zM539 819h4v1h-4zM543 820h9v1h-9zM552 821h6v1h-6zM558 820h1v1h-1zM559 819h2v1h-2zM561 818h1v1h-1zM562 817h2v1h-2zM564 816h1v1h-1zM565 817h1v1h-1zM566 818h1v1h-1zM567 819h1v1h-1zM568 820h1v2h-1zM569 822h1v1h-1zM570 823h1v1h-1zM571 824h1v1h-1zM572 824h1v2h-1zM573 823h1v1h-1zM574 821h1v2h-1zM575 820h1v1h-1zM576 818h1v2h-1zM577 817h1v1h-1zM578 815h1v2h-1zM579 813h1v2h-1zM580 812h6v1h-6zM586 811h14v1h-14zM600 812h6v1h-6zM606 811h2v1h-2zM608 810h2v1h-2zM610 809h1v1h-1zM611 808h10v1h-10zM621 809h1v1h-1zM622 810h1v1h-1zM623 811h1v2h-1zM624 813h1v1h-1zM625 814h1v1h-1zM626 815h1v1h-1zM627 816h1v1h-1zM628 817h3v1h-3zM631 816h4v1h-4zM635 815h3v1h-3zM638 816h4v1h-4zM642 817h11v1h-11zM653 816h1v1h-1zM654 815h1v1h-1zM655 814h1v1h-1zM656 812h1v2h-1zM657 811h1v1h-1zM658 810h1v1h-1zM659 809h1v1h-1zM660 808h2v1h-2zM662 807h2v1h-2zM664 806h2v1h-2zM666 805h4v1h-4zM670 806h1v1h-1zM671 807h2v1h-2zM673 808h1v1h-1zM674 809h2v1h-2zM676 810h1v1h-1zM677 811h1v1h-1zM678 812h1v1h-1zM679 813h1v1h-1zM680 814h1v1h-1zM681 815h1v1h-1zM682 816h1v1h-1zM683 817h1v1h-1zM684 818h3v1h-3zM687 817h2v1h-2zM689 816h2v1h-2zM691 815h3v1h-3zM694 816h4v1h-4zM698 817h4v1h-4zM702 818h8v1h-8zM710 817h1v1h-1zM711 816h1v1h-1zM712 815h2v1h-2zM714 814h1v1h-1zM715 813h1v1h-1zM716 812h2v1h-2zM718 811h1v1h-1zM719 810h2v1h-2zM721 809h1v1h-1zM722 808h1v1h-1zM723 807h5v1h-5zM728 808h10v1h-10zM738 807h3v1h-3zM741 806h1v1h-1zM742 805h1v1h-1zM743 804h1v1h-1zM744 803h1v1h-1zM745 802h2v1h-2zM747 801h1v1h-1zM748 800h1v1h-1zM749 799h4v1h-4zM753 798h5v1h-5zM758 799h1v1h-1zM759 800h1v1h-1zM760 801h1v1h-1zM761 802h1v1h-1zM762 803h2v1h-2zM764 804h1v1h-1zM765 803h1v1h-1zM766 802h1v1h-1zM767 801h1v1h-1zM768 800h1v1h-1zM769 799h1v1h-1zM770 798h1v1h-1zM771 797h1v1h-1zM772 796h4v1h-4zM776 797h5v1h-5zM781 798h1v1h-1zM782 799h2v1h-2zM784 800h2v1h-2zM786 801h2v1h-2zM788 802h1v1h-1zM789 803h1v1h-1zM790 804h1v1h-1zM791 805h1v1h-1zM792 806h1v2h-1zM793 808h1v1h-1zM794 809h1v1h-1zM795 810h1v1h-1zM796 811h2v1h-2zM798 810h1v1h-1zM799 809h2v1h-2zM801 808h1v1h-1zM802 807h2v1h-2zM804 806h1v1h-1zM805 807h2v1h-2zM807 808h2v1h-2zM809 809h1v1h-1zM810 810h2v1h-2zM812 811h1v1h-1zM813 812h1v2h-1zM814 814h1v1h-1zM815 815h1v2h-1zM816 817h1v1h-1zM817 818h1v2h-1zM818 820h1v1h-1zM819 821h1v2h-1zM820 823h1v1h-1zM821 822h3v1h-3zM824 821h2v1h-2zM826 820h2v1h-2zM828 819h11v1h-11zM839 818h3v1h-3zM842 817h3v1h-3zM845 816h4v1h-4zM849 815h4v1h-4zM853 814h5v1h-5zM858 813h3v1h-3zM861 814h1v2h-1zM862 816h1v1h-1zM863 817h1v1h-1zM864 818h1v2h-1zM865 820h1v1h-1zM866 821h1v1h-1zM867 822h1v2h-1zM868 824h1v1h-1zM869 823h2v1h-2zM871 822h1v1h-1zM872 821h2v1h-2zM874 820h1v1h-1zM875 819h3v1h-3zM878 820h2v1h-2zM880 821h2v1h-2zM882 822h2v1h-2zM884 823h10v1h-10zM894 822h4v1h-4zM898 821h3v1h-3zM901 820h3v1h-3zM904 819h2v1h-2zM906 818h2v1h-2zM908 817h5v1h-5zM913 816h6v1h-6zM919 817h4v1h-4zM923 818h10v1h-10zM933 817h1v1h-1zM934 816h2v1h-2zM936 815h1v1h-1zM937 814h1v1h-1zM938 813h2v1h-2zM940 812h2v1h-2zM942 813h2v1h-2zM944 814h2v1h-2zM946 815h2v1h-2zM948 816h4v1h-4zM952 817h5v1h-5zM957 816h1v1h-1zM958 815h1v1h-1zM959 814h1v1h-1zM960 813h2v1h-2zM962 812h1v1h-1zM963 811h1v1h-1zM964 810h6v1h-6zM970 811h4v1h-4zM974 812h3v1h-3zM977 813h3v1h-3zM980 814h2v1h-2zM982 813h4v1h-4zM986 812h10v1h-10zM996 812h1v3h-1zM997 815h1v2h-1zM998 817h1v2h-1zM999 819h1v2h-1zM1000 821h1v2h-1zM1001 823h1v2h-1zM1002 825h1v2h-1zM1003 827h1v2h-1zM1004 829h1v1h-1zM1005 830h1v1h-1zM1006 831h1v1h-1zM1007 832h1v1h-1zM1008 833h1v1h-1zM1009 834h2v1h-2zM1011 835h1v1h-1zM1012 836h2v1h-2zM1014 837h2v1h-2zM1016 838h3v1h-3zM1019 839h3v1h-3zM1022 838h2v1h-2zM1024 837h1v1h-1zM1025 836h2v1h-2zM1027 835h2v1h-2zM1029 834h3v1h-3zM1032 833h3v1h-3zM1035 832h10v1h-10zM1045 833h2v1h-2zM1047 834h1v1h-1zM1048 835h1v1h-1zM1049 836h2v1h-2zM1051 837h1v1h-1zM1052 838h2v1h-2zM1054 839h2v1h-2zM1056 840h3v1h-3zM1059 841h4v1h-4zM1063 840h4v1h-4zM1067 839h10v1h-10zM1077 837h1v2h-1zM1078 836h1v1h-1zM1079 835h1v1h-1zM1080 833h1v2h-1zM1081 832h1v1h-1zM1082 830h1v2h-1zM1083 829h1v1h-1zM1084 828h2v1h-2zM1086 829h2v1h-2zM1088 830h3v1h-3zM1091 831h2v1h-2zM1093 830h1v1h-1zM1094 829h1v1h-1zM1095 828h1v1h-1zM1096 826h1v2h-1zM1097 825h1v1h-1zM1098 824h1v1h-1zM1099 823h1v1h-1zM1100 822h2v1h-2zM1102 821h6v1h-6zM1108 820h10v1h-10zM1118 821h3v1h-3zM1121 822h2v1h-2zM1123 823h2v1h-2zM1125 822h2v1h-2zM1127 821h1v1h-1zM1128 820h1v1h-1zM1129 819h2v1h-2zM1131 818h1v1h-1zM1132 817h2v1h-2zM1134 816h3v1h-3zM1137 815h2v1h-2zM1139 814h2v1h-2zM1141 813h2v1h-2zM1143 812h2v1h-2zM1145 811h2v1h-2zM1147 810h3v1h-3zM1150 809h2v1h-2zM1152 808h2v1h-2zM1154 807h3v1h-3zM1157 806h3v1h-3zM1160 805h3v1h-3zM1163 804h12v1h-12zM1175 805h4v1h-4zM1179 806h3v1h-3zM1182 807h2v1h-2zM1184 808h2v1h-2zM1186 809h2v1h-2zM1188 810h1v1h-1zM1189 809h1v1h-1zM1190 808h1v1h-1zM1191 806h1v2h-1zM1192 805h1v1h-1zM1193 804h1v1h-1zM1194 803h1v1h-1zM1195 802h1v1h-1zM1196 801h1v1h-1zM1197 800h1v1h-1zM1198 799h1v1h-1zM1199 798h1v1h-1zM1200 797h1v1h-1zM1201 796h1v1h-1zM1202 795h2v1h-2zM1204 794h7v1h-7zM1211 795h2v1h-2zM1213 794h1v1h-1zM1214 793h2v1h-2zM1216 792h2v1h-2zM1218 791h1v1h-1zM1219 790h1v1h-1zM1220 790h1v2h-1zM1221 792h1v3h-1zM1222 795h1v2h-1zM1223 797h1v3h-1zM1224 800h1v2h-1zM1225 802h1v3h-1zM1226 805h1v2h-1zM1227 807h1v3h-1zM1228 810h1v1h-1zM1229 811h2v1h-2zM1231 812h2v1h-2zM1233 813h1v1h-1zM1234 814h2v1h-2zM1236 815h1v1h-1zM1237 814h1v1h-1zM1238 813h1v1h-1zM1239 812h1v1h-1zM1240 811h1v1h-1zM1241 810h1v1h-1zM1242 809h1v1h-1zM1243 808h1v1h-1zM1244 807h2v1h-2zM1246 806h9v1h-9zM1255 807h2v1h-2zM1257 808h2v1h-2zM1259 809h2v1h-2zM1261 808h2v1h-2zM1263 807h2v1h-2zM1265 806h2v1h-2zM1267 805h2v1h-2zM1269 804h4v1h-4zM1273 803h4v1h-4zM1277 802h4v1h-4zM1281 801h4v1h-4zM1285 800h1v1h-1zM1286 799h1v1h-1zM1287 798h2v1h-2zM1289 797h1v1h-1zM1290 796h2v1h-2zM1292 795h1v1h-1zM1293 793h1v2h-1zM1294 792h1v1h-1zM1295 791h1v1h-1zM1296 789h1v2h-1zM1297 788h1v1h-1zM1298 786h1v2h-1zM1299 785h1v1h-1zM1300 784h5v1h-5zM1305 783h5v1h-5zM1310 784h2v1h-2zM1312 785h1v1h-1zM1313 786h2v1h-2zM1315 787h13v1h-13zM1328 788h5v1h-5z"/>
<rect x="1685" y="61" width="2" height="1" fill="#000"/><rect x="1685" y="94" width="2" height="1" fill="#000"/><rect x="1685" y="127" width="2" height="1" fill="#000"/><rect x="1685" y="160" width="2" height="1" fill="#000"/><rect x="1685" y="193" width="2" height="1" fill="#000"/><rect x="1685" y="226" width="2" height="1" fill="#000"/><rect x="1685" y="259" width="2" height="1" fill="#000"/><rect x="1685" y="292" width="2" height="1" fill="#000"/><rect x="1685" y="325" width="2" height="1" fill="#000"/><rect x="1685" y="358" width="2" height="1" fill="#000"/><rect x="1685" y="391" width="2" height="1" fill="#000"/><rect x="1685" y="424" width="2" height="1" fill="#000"/><rect x="1685" y="457" width="2" height="1" fill="#000"/><rect x="1685" y="490" width="2" height="1" fill="#000"/><rect x="1685" y="523" width="2" height="1" fill="#000"/><rect x="1685" y="556" width="2" height="1" fill="#000"/><rect x="1685" y="589" width="2" height="1" fill="#000"/><rect x="1685" y="596" width="1" height="1" fill="#000"/><rect x="1685" y="687" width="1" height="1" fill="#000"/><rect x="1685" y="752" width="1" height="1" fill="#000"/><rect x="1685" y="757" width="1" height="1" fill="#000"/><rect x="1685" y="870" width="1" height="1" fill="#000"/><rect x="4" y="872" width="1" height="3" fill="#000"/><rect x="68" y="872" width="1" height="3" fill="#000"/><rect x="132" y="872" width="1" height="3" fill="#000"/><rect x="196" y="872" width="1" height="3" fill="#000"/><rect x="260" y="872" width="1" height="3" fill="#000"/><rect x="324" y="872" width="1" height="3" fill="#000"/><rect x="388" y="872" width="1" height="3" fill="#000"/><rect x="452" y="872" width="1" height="3" fill="#000"/><rect x="516" y="872" width="1" height="3" fill="#000"/><rect x="580" y="872" width="1" height="3" fill="#000"/><rect x="644" y="872" width="1" height="3" fill="#000"/><rect x="708" y="872" width="1" height="3" fill="#000"/><rect x="772" y="872" width="1" height="3" fill="#000"/><rect x="836" y="872" width="1" height="3" fill="#000"/><rect x="900" y="872" width="1" height="3" fill="#000"/><rect x="964" y="872" width="1" height="3" fill="#000"/><rect x="1028" y="872" width="1" height="3" fill="#000"/><rect x="1092" y="872" width="1" height="3" fill="#000"/><rect x="1156" y="872" width="1" height="3" fill="#000"/><rect x="1220" y="872" width="1" height="3" fill="#000"/><rect x="1284" y="872" width="1" height="3" fill="#000"/>
<polygon points="1342,30 1351,30 1346.5,35" fill="#708090" shape-rendering="auto"/>
<polygon points="7,36 14,36 10.5,40" fill="#000" shape-rendering="auto"/></svg>
<svg class="abs" style="left:900px;top:165px" width="260" height="50" viewBox="900 165 260 50" role="img" aria-label="duo kong zhuan zhe dian"><g fill="none" stroke="#ed1c24" stroke-width="2.6" stroke-linecap="butt" stroke-linejoin="miter"><path d="M922.4 173.2 L909.5 183.7"/><path d="M918.8 178.1 L936 178.1 Q926 187.5 908.6 191.1"/><path d="M917.2 182.8 L922.5 186.5"/><path d="M928.3 187.1 L910.8 197.5"/><path d="M924.3 189.8 L937.5 189.8 Q929 201 909.5 204.6"/><path d="M921.2 196.0 L925.5 199.4"/><path d="M955.0 173.8 L957.5 177.8"/><path d="M943.0 183.4 L943.0 178.8 L969.8 178.8 L969.8 183.4"/><path d="M952.9 182.8 L941.5 190.1"/><path d="M959.7 182.8 L971.3 190.4"/><path d="M945.2 191.7 L968.0 191.7"/><path d="M956.3 191.7 L956.3 202.7"/><path d="M941.8 202.7 L971.0 202.7"/><path d="M974.1 179.7 L986.7 179.7"/><path d="M980.0 173.8 L975.0 190.1 L987.0 190.1"/><path d="M981.8 183.4 L981.8 205.2"/><path d="M973.8 198.4 L987.6 196.0"/><path d="M989.8 179.7 L1003.9 179.7"/><path d="M987.6 186.1 L1005.2 186.1"/><path d="M995.0 173.8 L992.3 192.6 L1003.6 192.6 L996.0 200.3"/><path d="M989.8 196.9 L1000.6 204.6"/><path d="M1007.1 181.2 L1017.8 181.2"/><path d="M1012.6 174.2 L1012.6 202.4 Q1012.6 204.6 1007.4 204"/><path d="M1006.8 192.6 L1016.9 188.6"/><path d="M1036.9 175.7 L1020.6 177.8"/><path d="M1020.6 177.8 L1020.6 192 Q1020.4 199 1016.6 204.9"/><path d="M1020.6 187.1 L1038.4 187.1"/><path d="M1031.4 187.1 L1031.4 205.2"/><path d="M1055.0 173.5 L1055.0 184.3"/><path d="M1055.0 178.5 L1070.7 178.5"/><path d="M1044.9 184.3 H1066.7 V193.8 H1044.9 Z"/><path d="M1044.6 197.8 L1040.6 204.6"/><path d="M1050.4 197.2 L1052.9 204.0"/><path d="M1058.1 197.2 L1060.6 204.0"/><path d="M1066.1 197.5 L1070.4 204.6"/></g><g fill="none" stroke="#ed1c24" stroke-width="3.1" stroke-linejoin="miter"><path d="M1107.2 183.4 A6.4 6.4 0 1 0 1100.8 190 C1104 190 1106.6 187.5 1107.2 183.4 C1107.8 192.5 1104.5 199.9 1098.4 199.9 C1096.8 199.9 1095.4 199.6 1094.3 199.0"/><path d="M1139.5 177.3 C1144.4 177.3 1146.3 183 1146.3 188.5 C1146.3 194 1144.4 199.8 1139.5 199.8 C1134.6 199.8 1132.7 194 1132.7 188.5 C1132.7 183 1134.6 177.3 1139.5 177.3 Z"/></g><polygon fill="#ed1c24" points="1075.1,179.2 1083.2,175.2 1084.6,175.2 1084.6,200.9 1081.1,200.9 1081.1,180.1 1076.3,182.8"/><polygon fill="#ed1c24" points="1113.6,179.2 1121.7,175.2 1123.1,175.2 1123.1,200.9 1119.6,200.9 1119.6,180.1 1114.8,182.8"/></svg>
<div class="t" id="t0" style="left:18.60px;top:34.22px;font-size:9.7px;color:#000;letter-spacing:-0.139px;">XAUUSD-,H4</div>
<div class="t" id="t1" style="left:81.70px;top:34.22px;font-size:9.7px;color:#000;letter-spacing:-0.241px;">1946.11</div>
<div class="t" id="t2" style="left:117.60px;top:34.22px;font-size:9.7px;color:#000;letter-spacing:-0.311px;">1947.18</div>
<div class="t" id="t3" style="left:153.60px;top:34.22px;font-size:9.7px;color:#000;letter-spacing:-0.361px;">1943.07</div>
<div class="t" id="t4" style="left:189.30px;top:34.22px;font-size:9.7px;color:#000;letter-spacing:-0.145px;">1944.40</div>
<div class="t" id="t5" style="left:7.80px;top:600.22px;font-size:9.7px;color:#000;letter-spacing:-0.063px;">MACD(12,26,9)</div>
<div class="t" id="t6" style="left:76.50px;top:600.22px;font-size:9.7px;color:#000;letter-spacing:-0.195px;">14.052</div>
<div class="t" id="t7" style="left:107.40px;top:600.22px;font-size:9.7px;color:#000;letter-spacing:-0.120px;">8.686</div>
<div class="t" id="t8" style="left:7.80px;top:761.22px;font-size:9.7px;color:#000;letter-spacing:-0.098px;">RSI(14)</div>
<div class="t" id="t9" style="left:42.70px;top:761.22px;font-size:9.7px;color:#000;letter-spacing:-0.261px;">71.9484</div>
<div class="t" id="t10" style="left:1690.00px;top:58.22px;font-size:9.7px;color:#000;letter-spacing:-0.278px;">1951.75</div>
<div class="t" id="t11" style="left:1690.00px;top:91.22px;font-size:9.7px;color:#000;letter-spacing:-0.295px;">1945.90</div>
<div class="t" id="t12" style="left:1690.00px;top:124.22px;font-size:9.7px;color:#000;letter-spacing:-0.278px;">1940.05</div>
<div class="t" id="t13" style="left:1690.00px;top:157.22px;font-size:9.7px;color:#000;letter-spacing:-0.295px;">1934.20</div>
<div class="t" id="t14" style="left:1690.00px;top:190.22px;font-size:9.7px;color:#000;letter-spacing:-0.278px;">1928.35</div>
<div class="t" id="t15" style="left:1690.00px;top:223.22px;font-size:9.7px;color:#000;letter-spacing:-0.278px;">1922.35</div>
<div class="t" id="t16" style="left:1690.00px;top:256.22px;font-size:9.7px;color:#000;letter-spacing:-0.295px;">1916.50</div>
<div class="t" id="t17" style="left:1690.00px;top:289.22px;font-size:9.7px;color:#000;letter-spacing:-0.278px;">1910.65</div>
<div class="t" id="t18" style="left:1690.00px;top:322.22px;font-size:9.7px;color:#000;letter-spacing:-0.295px;">1904.80</div>
<div class="t" id="t19" style="left:1690.00px;top:355.22px;font-size:9.7px;color:#000;letter-spacing:-0.278px;">1898.95</div>
<div class="t" id="t20" style="left:1690.00px;top:388.22px;font-size:9.7px;color:#000;letter-spacing:-0.295px;">1893.10</div>
<div class="t" id="t21" style="left:1690.00px;top:421.22px;font-size:9.7px;color:#000;letter-spacing:-0.278px;">1887.25</div>
<div class="t" id="t22" style="left:1690.00px;top:454.22px;font-size:9.7px;color:#000;letter-spacing:-0.278px;">1881.25</div>
<div class="t" id="t23" style="left:1690.00px;top:487.22px;font-size:9.7px;color:#000;letter-spacing:-0.295px;">1875.40</div>
<div class="t" id="t24" style="left:1690.00px;top:520.22px;font-size:9.7px;color:#000;letter-spacing:-0.278px;">1869.55</div>
<div class="t" id="t25" style="left:1690.00px;top:553.22px;font-size:9.7px;color:#000;letter-spacing:-0.295px;">1863.70</div>
<div class="t" id="t26" style="left:1690.00px;top:586.22px;font-size:9.7px;color:#000;letter-spacing:-0.278px;">1857.85</div>
<div class="r" style="left:1686px;top:65px;width:38px;height:11px;background:#ff0000"></div><div class="r" style="left:1686px;top:97px;width:38px;height:11px;background:#000"></div><div class="r" style="left:1686px;top:290px;width:38px;height:11px;background:#32cd32"></div><div class="r" style="left:1686px;top:543px;width:38px;height:11px;background:#4169e1"></div>
<div class="t" id="t27" style="left:1690.00px;top:67.22px;font-size:9.7px;color:#fff;letter-spacing:-0.295px;">1950.00</div>
<div class="t" id="t28" style="left:1690.00px;top:99.22px;font-size:9.7px;color:#fff;letter-spacing:-0.295px;">1944.40</div>
<div class="t" id="t29" style="left:1690.00px;top:292.22px;font-size:9.7px;color:#fff;letter-spacing:-0.295px;">1910.00</div>
<div class="t" id="t30" style="left:1690.00px;top:545.22px;font-size:9.7px;color:#fff;letter-spacing:-0.295px;">1865.00</div>
<div class="t" id="t31" style="left:1688.10px;top:598.22px;font-size:9.7px;color:#000;letter-spacing:-0.255px;">15.237</div>
<div class="t" id="t32" style="left:1687.60px;top:684.22px;font-size:9.7px;color:#000;letter-spacing:-0.061px;">0.00</div>
<div class="t" id="t33" style="left:1687.40px;top:743.22px;font-size:9.7px;color:#000;letter-spacing:-0.151px;">-10.833</div>
<div class="t" id="t34" style="left:1687.50px;top:759.22px;font-size:9.7px;color:#000;letter-spacing:-0.195px;">100</div>
<div class="t" id="t35" style="left:1686.70px;top:788.22px;font-size:9.7px;color:#000;letter-spacing:0.005px;">70</div>
<div class="t" id="t36" style="left:1686.80px;top:833.22px;font-size:9.7px;color:#000;letter-spacing:-0.095px;">30</div>
<div class="t" id="t37" style="left:1687.70px;top:861.22px;font-size:9.7px;color:#000;">0</div>
<div class="t" id="t38" style="left:3.10px;top:877.22px;font-size:9.7px;color:#000;letter-spacing:-0.302px;">29 Sep 2020</div>
<div class="t" id="t39" style="left:67.00px;top:877.22px;font-size:9.7px;color:#000;letter-spacing:-0.238px;">30 Sep 20:00</div>
<div class="t" id="t40" style="left:130.90px;top:877.22px;font-size:9.7px;color:#000;letter-spacing:-0.085px;">2 Oct 04:00</div>
<div class="t" id="t41" style="left:195.00px;top:877.22px;font-size:9.7px;color:#000;letter-spacing:-0.095px;">5 Oct 12:00</div>
<div class="t" id="t42" style="left:258.90px;top:877.22px;font-size:9.7px;color:#000;letter-spacing:-0.085px;">6 Oct 20:00</div>
<div class="t" id="t43" style="left:322.90px;top:877.22px;font-size:9.7px;color:#000;letter-spacing:-0.085px;">8 Oct 04:00</div>
<div class="t" id="t44" style="left:386.90px;top:877.22px;font-size:9.7px;color:#000;letter-spacing:-0.085px;">9 Oct 12:00</div>
<div class="t" id="t45" style="left:450.60px;top:877.22px;font-size:9.7px;color:#000;letter-spacing:-0.086px;">12 Oct 20:00</div>
<div class="t" id="t46" style="left:514.60px;top:877.22px;font-size:9.7px;color:#000;letter-spacing:-0.086px;">14 Oct 04:00</div>
<div class="t" id="t47" style="left:578.60px;top:877.22px;font-size:9.7px;color:#000;letter-spacing:-0.086px;">15 Oct 12:00</div>
<div class="t" id="t48" style="left:642.60px;top:877.22px;font-size:9.7px;color:#000;letter-spacing:-0.086px;">18 Oct 23:00</div>
<div class="t" id="t49" style="left:706.90px;top:877.22px;font-size:9.7px;color:#000;letter-spacing:-0.113px;">20 Oct 04:00</div>
<div class="t" id="t50" style="left:770.90px;top:877.22px;font-size:9.7px;color:#000;letter-spacing:-0.113px;">21 Oct 12:00</div>
<div class="t" id="t51" style="left:834.90px;top:877.22px;font-size:9.7px;color:#000;letter-spacing:-0.113px;">22 Oct 20:00</div>
<div class="t" id="t52" style="left:898.90px;top:877.22px;font-size:9.7px;color:#000;letter-spacing:-0.113px;">26 Oct 04:00</div>
<div class="t" id="t53" style="left:962.90px;top:877.22px;font-size:9.7px;color:#000;letter-spacing:-0.113px;">27 Oct 12:00</div>
<div class="t" id="t54" style="left:1026.90px;top:877.22px;font-size:9.7px;color:#000;letter-spacing:-0.113px;">28 Oct 20:00</div>
<div class="t" id="t55" style="left:1091.00px;top:877.22px;font-size:9.7px;color:#000;letter-spacing:-0.123px;">30 Oct 04:00</div>
<div class="t" id="t56" style="left:1154.90px;top:877.22px;font-size:9.7px;color:#000;letter-spacing:0.009px;">2 Nov 12:00</div>
<div class="t" id="t57" style="left:1219.00px;top:877.22px;font-size:9.7px;color:#000;letter-spacing:-0.001px;">3 Nov 20:00</div>
<div class="t" id="t58" style="left:1283.00px;top:877.22px;font-size:9.7px;color:#000;letter-spacing:-0.001px;">5 Nov 04:00</div>
<div class="t" id="t59" style="left:130.30px;top:10.22px;font-size:9.7px;color:#4a4a4a;letter-spacing:1.020px;">M1</div>
<div class="t" id="t60" style="left:158.80px;top:10.22px;font-size:9.7px;color:#4a4a4a;letter-spacing:0.420px;">M5</div>
<div class="t" id="t61" style="left:184.80px;top:10.22px;font-size:9.7px;color:#4a4a4a;letter-spacing:-0.037px;">M15</div>
<div class="t" id="t62" style="left:212.70px;top:10.22px;font-size:9.7px;color:#4a4a4a;letter-spacing:0.013px;">M30</div>
<div class="t" id="t63" style="left:243.50px;top:10.22px;font-size:9.7px;color:#4a4a4a;letter-spacing:0.595px;">H1</div>
<div class="t" id="t64" style="left:270.70px;top:10.22px;font-size:9.7px;color:#4a4a4a;letter-spacing:0.695px;">H4</div>
<div class="t" id="t65" style="left:299.60px;top:10.22px;font-size:9.7px;color:#4a4a4a;letter-spacing:0.495px;">D1</div>
<div class="t" id="t66" style="left:327.90px;top:10.22px;font-size:9.7px;color:#4a4a4a;letter-spacing:0.145px;">W1</div>
<div class="t" id="t67" style="left:353.70px;top:10.22px;font-size:9.7px;color:#4a4a4a;letter-spacing:1.220px;">MN</div>
<div class="t" id="t68" style="left:30.30px;top:7.30px;font-size:12.6px;color:#5a5a5a;font-weight:bold;">A</div>
<div class="t" id="t69" style="left:59.20px;top:9.04px;font-size:11px;color:#5a5a5a;font-weight:bold;">T</div>
<div class="t" id="t70" style="left:10.20px;top:16.66px;font-size:7px;color:#444;font-weight:bold;">F</div>
</body></html>
